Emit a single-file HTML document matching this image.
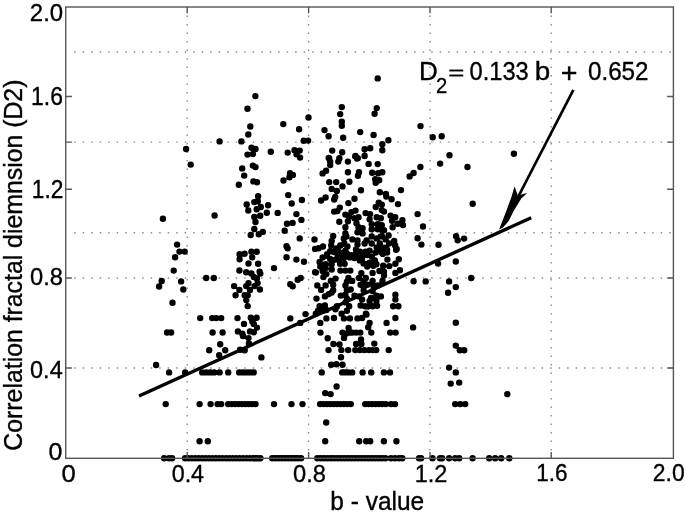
<!DOCTYPE html>
<html><head><meta charset="utf-8"><style>
html,body{margin:0;padding:0;background:#fff;width:685px;height:514px;overflow:hidden}
svg{display:block;filter:grayscale(1)}
text{font-family:"Liberation Sans",sans-serif}
</style></head><body>
<svg width="685" height="514" viewBox="0 0 685 514">
<rect width="685" height="514" fill="#fff"/>
<path d="M186.50 15.50h1.4v1.6h-1.4zM186.50 24.00h1.4v1.6h-1.4zM186.50 32.50h1.4v1.6h-1.4zM186.50 41.00h1.4v1.6h-1.4zM186.50 49.50h1.4v1.6h-1.4zM186.50 58.00h1.4v1.6h-1.4zM186.50 66.50h1.4v1.6h-1.4zM186.50 75.00h1.4v1.6h-1.4zM186.50 83.50h1.4v1.6h-1.4zM186.50 92.00h1.4v1.6h-1.4zM186.50 100.50h1.4v1.6h-1.4zM186.50 109.00h1.4v1.6h-1.4zM186.50 117.50h1.4v1.6h-1.4zM186.50 126.00h1.4v1.6h-1.4zM186.50 134.50h1.4v1.6h-1.4zM186.50 143.00h1.4v1.6h-1.4zM186.50 151.50h1.4v1.6h-1.4zM186.50 160.00h1.4v1.6h-1.4zM186.50 168.50h1.4v1.6h-1.4zM186.50 177.00h1.4v1.6h-1.4zM186.50 185.50h1.4v1.6h-1.4zM186.50 194.00h1.4v1.6h-1.4zM186.50 202.50h1.4v1.6h-1.4zM186.50 211.00h1.4v1.6h-1.4zM186.50 219.50h1.4v1.6h-1.4zM186.50 228.00h1.4v1.6h-1.4zM186.50 236.50h1.4v1.6h-1.4zM186.50 245.00h1.4v1.6h-1.4zM186.50 253.50h1.4v1.6h-1.4zM186.50 262.00h1.4v1.6h-1.4zM186.50 270.50h1.4v1.6h-1.4zM186.50 279.00h1.4v1.6h-1.4zM186.50 287.50h1.4v1.6h-1.4zM186.50 296.00h1.4v1.6h-1.4zM186.50 304.50h1.4v1.6h-1.4zM186.50 313.00h1.4v1.6h-1.4zM186.50 321.50h1.4v1.6h-1.4zM186.50 330.00h1.4v1.6h-1.4zM186.50 338.50h1.4v1.6h-1.4zM186.50 347.00h1.4v1.6h-1.4zM186.50 355.50h1.4v1.6h-1.4zM186.50 364.00h1.4v1.6h-1.4zM186.50 372.50h1.4v1.6h-1.4zM186.50 381.00h1.4v1.6h-1.4zM186.50 389.50h1.4v1.6h-1.4zM186.50 398.00h1.4v1.6h-1.4zM186.50 406.50h1.4v1.6h-1.4zM186.50 415.00h1.4v1.6h-1.4zM186.50 423.50h1.4v1.6h-1.4zM186.50 432.00h1.4v1.6h-1.4zM186.50 440.50h1.4v1.6h-1.4zM186.50 449.00h1.4v1.6h-1.4zM307.90 15.50h1.4v1.6h-1.4zM307.90 24.00h1.4v1.6h-1.4zM307.90 32.50h1.4v1.6h-1.4zM307.90 41.00h1.4v1.6h-1.4zM307.90 49.50h1.4v1.6h-1.4zM307.90 58.00h1.4v1.6h-1.4zM307.90 66.50h1.4v1.6h-1.4zM307.90 75.00h1.4v1.6h-1.4zM307.90 83.50h1.4v1.6h-1.4zM307.90 92.00h1.4v1.6h-1.4zM307.90 100.50h1.4v1.6h-1.4zM307.90 109.00h1.4v1.6h-1.4zM307.90 117.50h1.4v1.6h-1.4zM307.90 126.00h1.4v1.6h-1.4zM307.90 134.50h1.4v1.6h-1.4zM307.90 143.00h1.4v1.6h-1.4zM307.90 151.50h1.4v1.6h-1.4zM307.90 160.00h1.4v1.6h-1.4zM307.90 168.50h1.4v1.6h-1.4zM307.90 177.00h1.4v1.6h-1.4zM307.90 185.50h1.4v1.6h-1.4zM307.90 194.00h1.4v1.6h-1.4zM307.90 202.50h1.4v1.6h-1.4zM307.90 211.00h1.4v1.6h-1.4zM307.90 219.50h1.4v1.6h-1.4zM307.90 228.00h1.4v1.6h-1.4zM307.90 236.50h1.4v1.6h-1.4zM307.90 245.00h1.4v1.6h-1.4zM307.90 253.50h1.4v1.6h-1.4zM307.90 262.00h1.4v1.6h-1.4zM307.90 270.50h1.4v1.6h-1.4zM307.90 279.00h1.4v1.6h-1.4zM307.90 287.50h1.4v1.6h-1.4zM307.90 296.00h1.4v1.6h-1.4zM307.90 304.50h1.4v1.6h-1.4zM307.90 313.00h1.4v1.6h-1.4zM307.90 321.50h1.4v1.6h-1.4zM307.90 330.00h1.4v1.6h-1.4zM307.90 338.50h1.4v1.6h-1.4zM307.90 347.00h1.4v1.6h-1.4zM307.90 355.50h1.4v1.6h-1.4zM307.90 364.00h1.4v1.6h-1.4zM307.90 372.50h1.4v1.6h-1.4zM307.90 381.00h1.4v1.6h-1.4zM307.90 389.50h1.4v1.6h-1.4zM307.90 398.00h1.4v1.6h-1.4zM307.90 406.50h1.4v1.6h-1.4zM307.90 415.00h1.4v1.6h-1.4zM307.90 423.50h1.4v1.6h-1.4zM307.90 432.00h1.4v1.6h-1.4zM307.90 440.50h1.4v1.6h-1.4zM307.90 449.00h1.4v1.6h-1.4zM429.30 15.50h1.4v1.6h-1.4zM429.30 24.00h1.4v1.6h-1.4zM429.30 32.50h1.4v1.6h-1.4zM429.30 41.00h1.4v1.6h-1.4zM429.30 49.50h1.4v1.6h-1.4zM429.30 58.00h1.4v1.6h-1.4zM429.30 66.50h1.4v1.6h-1.4zM429.30 75.00h1.4v1.6h-1.4zM429.30 83.50h1.4v1.6h-1.4zM429.30 92.00h1.4v1.6h-1.4zM429.30 100.50h1.4v1.6h-1.4zM429.30 109.00h1.4v1.6h-1.4zM429.30 117.50h1.4v1.6h-1.4zM429.30 126.00h1.4v1.6h-1.4zM429.30 134.50h1.4v1.6h-1.4zM429.30 143.00h1.4v1.6h-1.4zM429.30 151.50h1.4v1.6h-1.4zM429.30 160.00h1.4v1.6h-1.4zM429.30 168.50h1.4v1.6h-1.4zM429.30 177.00h1.4v1.6h-1.4zM429.30 185.50h1.4v1.6h-1.4zM429.30 194.00h1.4v1.6h-1.4zM429.30 202.50h1.4v1.6h-1.4zM429.30 211.00h1.4v1.6h-1.4zM429.30 219.50h1.4v1.6h-1.4zM429.30 228.00h1.4v1.6h-1.4zM429.30 236.50h1.4v1.6h-1.4zM429.30 245.00h1.4v1.6h-1.4zM429.30 253.50h1.4v1.6h-1.4zM429.30 262.00h1.4v1.6h-1.4zM429.30 270.50h1.4v1.6h-1.4zM429.30 279.00h1.4v1.6h-1.4zM429.30 287.50h1.4v1.6h-1.4zM429.30 296.00h1.4v1.6h-1.4zM429.30 304.50h1.4v1.6h-1.4zM429.30 313.00h1.4v1.6h-1.4zM429.30 321.50h1.4v1.6h-1.4zM429.30 330.00h1.4v1.6h-1.4zM429.30 338.50h1.4v1.6h-1.4zM429.30 347.00h1.4v1.6h-1.4zM429.30 355.50h1.4v1.6h-1.4zM429.30 364.00h1.4v1.6h-1.4zM429.30 372.50h1.4v1.6h-1.4zM429.30 381.00h1.4v1.6h-1.4zM429.30 389.50h1.4v1.6h-1.4zM429.30 398.00h1.4v1.6h-1.4zM429.30 406.50h1.4v1.6h-1.4zM429.30 415.00h1.4v1.6h-1.4zM429.30 423.50h1.4v1.6h-1.4zM429.30 432.00h1.4v1.6h-1.4zM429.30 440.50h1.4v1.6h-1.4zM429.30 449.00h1.4v1.6h-1.4zM550.50 15.50h1.4v1.6h-1.4zM550.50 24.00h1.4v1.6h-1.4zM550.50 32.50h1.4v1.6h-1.4zM550.50 41.00h1.4v1.6h-1.4zM550.50 49.50h1.4v1.6h-1.4zM550.50 58.00h1.4v1.6h-1.4zM550.50 66.50h1.4v1.6h-1.4zM550.50 75.00h1.4v1.6h-1.4zM550.50 83.50h1.4v1.6h-1.4zM550.50 92.00h1.4v1.6h-1.4zM550.50 100.50h1.4v1.6h-1.4zM550.50 109.00h1.4v1.6h-1.4zM550.50 117.50h1.4v1.6h-1.4zM550.50 126.00h1.4v1.6h-1.4zM550.50 134.50h1.4v1.6h-1.4zM550.50 143.00h1.4v1.6h-1.4zM550.50 151.50h1.4v1.6h-1.4zM550.50 160.00h1.4v1.6h-1.4zM550.50 168.50h1.4v1.6h-1.4zM550.50 177.00h1.4v1.6h-1.4zM550.50 185.50h1.4v1.6h-1.4zM550.50 194.00h1.4v1.6h-1.4zM550.50 202.50h1.4v1.6h-1.4zM550.50 211.00h1.4v1.6h-1.4zM550.50 219.50h1.4v1.6h-1.4zM550.50 228.00h1.4v1.6h-1.4zM550.50 236.50h1.4v1.6h-1.4zM550.50 245.00h1.4v1.6h-1.4zM550.50 253.50h1.4v1.6h-1.4zM550.50 262.00h1.4v1.6h-1.4zM550.50 270.50h1.4v1.6h-1.4zM550.50 279.00h1.4v1.6h-1.4zM550.50 287.50h1.4v1.6h-1.4zM550.50 296.00h1.4v1.6h-1.4zM550.50 304.50h1.4v1.6h-1.4zM550.50 313.00h1.4v1.6h-1.4zM550.50 321.50h1.4v1.6h-1.4zM550.50 330.00h1.4v1.6h-1.4zM550.50 338.50h1.4v1.6h-1.4zM550.50 347.00h1.4v1.6h-1.4zM550.50 355.50h1.4v1.6h-1.4zM550.50 364.00h1.4v1.6h-1.4zM550.50 372.50h1.4v1.6h-1.4zM550.50 381.00h1.4v1.6h-1.4zM550.50 389.50h1.4v1.6h-1.4zM550.50 398.00h1.4v1.6h-1.4zM550.50 406.50h1.4v1.6h-1.4zM550.50 415.00h1.4v1.6h-1.4zM550.50 423.50h1.4v1.6h-1.4zM550.50 432.00h1.4v1.6h-1.4zM550.50 440.50h1.4v1.6h-1.4zM550.50 449.00h1.4v1.6h-1.4zM74.15 51.30h1.5v1.4h-1.5zM82.65 51.30h1.5v1.4h-1.5zM91.15 51.30h1.5v1.4h-1.5zM99.65 51.30h1.5v1.4h-1.5zM108.15 51.30h1.5v1.4h-1.5zM116.65 51.30h1.5v1.4h-1.5zM125.15 51.30h1.5v1.4h-1.5zM133.65 51.30h1.5v1.4h-1.5zM142.15 51.30h1.5v1.4h-1.5zM150.65 51.30h1.5v1.4h-1.5zM159.15 51.30h1.5v1.4h-1.5zM167.65 51.30h1.5v1.4h-1.5zM176.15 51.30h1.5v1.4h-1.5zM184.65 51.30h1.5v1.4h-1.5zM193.15 51.30h1.5v1.4h-1.5zM201.65 51.30h1.5v1.4h-1.5zM210.15 51.30h1.5v1.4h-1.5zM218.65 51.30h1.5v1.4h-1.5zM227.15 51.30h1.5v1.4h-1.5zM235.65 51.30h1.5v1.4h-1.5zM244.15 51.30h1.5v1.4h-1.5zM252.65 51.30h1.5v1.4h-1.5zM261.15 51.30h1.5v1.4h-1.5zM269.65 51.30h1.5v1.4h-1.5zM278.15 51.30h1.5v1.4h-1.5zM286.65 51.30h1.5v1.4h-1.5zM295.15 51.30h1.5v1.4h-1.5zM303.65 51.30h1.5v1.4h-1.5zM312.15 51.30h1.5v1.4h-1.5zM320.65 51.30h1.5v1.4h-1.5zM329.15 51.30h1.5v1.4h-1.5zM337.65 51.30h1.5v1.4h-1.5zM346.15 51.30h1.5v1.4h-1.5zM354.65 51.30h1.5v1.4h-1.5zM363.15 51.30h1.5v1.4h-1.5zM371.65 51.30h1.5v1.4h-1.5zM380.15 51.30h1.5v1.4h-1.5zM388.65 51.30h1.5v1.4h-1.5zM397.15 51.30h1.5v1.4h-1.5zM405.65 51.30h1.5v1.4h-1.5zM414.15 51.30h1.5v1.4h-1.5zM422.65 51.30h1.5v1.4h-1.5zM431.15 51.30h1.5v1.4h-1.5zM439.65 51.30h1.5v1.4h-1.5zM448.15 51.30h1.5v1.4h-1.5zM456.65 51.30h1.5v1.4h-1.5zM465.15 51.30h1.5v1.4h-1.5zM473.65 51.30h1.5v1.4h-1.5zM482.15 51.30h1.5v1.4h-1.5zM490.65 51.30h1.5v1.4h-1.5zM499.15 51.30h1.5v1.4h-1.5zM507.65 51.30h1.5v1.4h-1.5zM516.15 51.30h1.5v1.4h-1.5zM524.65 51.30h1.5v1.4h-1.5zM533.15 51.30h1.5v1.4h-1.5zM541.65 51.30h1.5v1.4h-1.5zM550.15 51.30h1.5v1.4h-1.5zM558.65 51.30h1.5v1.4h-1.5zM567.15 51.30h1.5v1.4h-1.5zM575.65 51.30h1.5v1.4h-1.5zM584.15 51.30h1.5v1.4h-1.5zM592.65 51.30h1.5v1.4h-1.5zM601.15 51.30h1.5v1.4h-1.5zM609.65 51.30h1.5v1.4h-1.5zM618.15 51.30h1.5v1.4h-1.5zM626.65 51.30h1.5v1.4h-1.5zM635.15 51.30h1.5v1.4h-1.5zM643.65 51.30h1.5v1.4h-1.5zM652.15 51.30h1.5v1.4h-1.5zM660.65 51.30h1.5v1.4h-1.5zM669.15 51.30h1.5v1.4h-1.5zM74.15 141.40h1.5v1.4h-1.5zM82.65 141.40h1.5v1.4h-1.5zM91.15 141.40h1.5v1.4h-1.5zM99.65 141.40h1.5v1.4h-1.5zM108.15 141.40h1.5v1.4h-1.5zM116.65 141.40h1.5v1.4h-1.5zM125.15 141.40h1.5v1.4h-1.5zM133.65 141.40h1.5v1.4h-1.5zM142.15 141.40h1.5v1.4h-1.5zM150.65 141.40h1.5v1.4h-1.5zM159.15 141.40h1.5v1.4h-1.5zM167.65 141.40h1.5v1.4h-1.5zM176.15 141.40h1.5v1.4h-1.5zM184.65 141.40h1.5v1.4h-1.5zM193.15 141.40h1.5v1.4h-1.5zM201.65 141.40h1.5v1.4h-1.5zM210.15 141.40h1.5v1.4h-1.5zM218.65 141.40h1.5v1.4h-1.5zM227.15 141.40h1.5v1.4h-1.5zM235.65 141.40h1.5v1.4h-1.5zM244.15 141.40h1.5v1.4h-1.5zM252.65 141.40h1.5v1.4h-1.5zM261.15 141.40h1.5v1.4h-1.5zM269.65 141.40h1.5v1.4h-1.5zM278.15 141.40h1.5v1.4h-1.5zM286.65 141.40h1.5v1.4h-1.5zM295.15 141.40h1.5v1.4h-1.5zM303.65 141.40h1.5v1.4h-1.5zM312.15 141.40h1.5v1.4h-1.5zM320.65 141.40h1.5v1.4h-1.5zM329.15 141.40h1.5v1.4h-1.5zM337.65 141.40h1.5v1.4h-1.5zM346.15 141.40h1.5v1.4h-1.5zM354.65 141.40h1.5v1.4h-1.5zM363.15 141.40h1.5v1.4h-1.5zM371.65 141.40h1.5v1.4h-1.5zM380.15 141.40h1.5v1.4h-1.5zM388.65 141.40h1.5v1.4h-1.5zM397.15 141.40h1.5v1.4h-1.5zM405.65 141.40h1.5v1.4h-1.5zM414.15 141.40h1.5v1.4h-1.5zM422.65 141.40h1.5v1.4h-1.5zM431.15 141.40h1.5v1.4h-1.5zM439.65 141.40h1.5v1.4h-1.5zM448.15 141.40h1.5v1.4h-1.5zM456.65 141.40h1.5v1.4h-1.5zM465.15 141.40h1.5v1.4h-1.5zM473.65 141.40h1.5v1.4h-1.5zM482.15 141.40h1.5v1.4h-1.5zM490.65 141.40h1.5v1.4h-1.5zM499.15 141.40h1.5v1.4h-1.5zM507.65 141.40h1.5v1.4h-1.5zM516.15 141.40h1.5v1.4h-1.5zM524.65 141.40h1.5v1.4h-1.5zM533.15 141.40h1.5v1.4h-1.5zM541.65 141.40h1.5v1.4h-1.5zM550.15 141.40h1.5v1.4h-1.5zM558.65 141.40h1.5v1.4h-1.5zM567.15 141.40h1.5v1.4h-1.5zM575.65 141.40h1.5v1.4h-1.5zM584.15 141.40h1.5v1.4h-1.5zM592.65 141.40h1.5v1.4h-1.5zM601.15 141.40h1.5v1.4h-1.5zM609.65 141.40h1.5v1.4h-1.5zM618.15 141.40h1.5v1.4h-1.5zM626.65 141.40h1.5v1.4h-1.5zM635.15 141.40h1.5v1.4h-1.5zM643.65 141.40h1.5v1.4h-1.5zM652.15 141.40h1.5v1.4h-1.5zM660.65 141.40h1.5v1.4h-1.5zM669.15 141.40h1.5v1.4h-1.5zM74.15 232.10h1.5v1.4h-1.5zM82.65 232.10h1.5v1.4h-1.5zM91.15 232.10h1.5v1.4h-1.5zM99.65 232.10h1.5v1.4h-1.5zM108.15 232.10h1.5v1.4h-1.5zM116.65 232.10h1.5v1.4h-1.5zM125.15 232.10h1.5v1.4h-1.5zM133.65 232.10h1.5v1.4h-1.5zM142.15 232.10h1.5v1.4h-1.5zM150.65 232.10h1.5v1.4h-1.5zM159.15 232.10h1.5v1.4h-1.5zM167.65 232.10h1.5v1.4h-1.5zM176.15 232.10h1.5v1.4h-1.5zM184.65 232.10h1.5v1.4h-1.5zM193.15 232.10h1.5v1.4h-1.5zM201.65 232.10h1.5v1.4h-1.5zM210.15 232.10h1.5v1.4h-1.5zM218.65 232.10h1.5v1.4h-1.5zM227.15 232.10h1.5v1.4h-1.5zM235.65 232.10h1.5v1.4h-1.5zM244.15 232.10h1.5v1.4h-1.5zM252.65 232.10h1.5v1.4h-1.5zM261.15 232.10h1.5v1.4h-1.5zM269.65 232.10h1.5v1.4h-1.5zM278.15 232.10h1.5v1.4h-1.5zM286.65 232.10h1.5v1.4h-1.5zM295.15 232.10h1.5v1.4h-1.5zM303.65 232.10h1.5v1.4h-1.5zM312.15 232.10h1.5v1.4h-1.5zM320.65 232.10h1.5v1.4h-1.5zM329.15 232.10h1.5v1.4h-1.5zM337.65 232.10h1.5v1.4h-1.5zM346.15 232.10h1.5v1.4h-1.5zM354.65 232.10h1.5v1.4h-1.5zM363.15 232.10h1.5v1.4h-1.5zM371.65 232.10h1.5v1.4h-1.5zM380.15 232.10h1.5v1.4h-1.5zM388.65 232.10h1.5v1.4h-1.5zM397.15 232.10h1.5v1.4h-1.5zM405.65 232.10h1.5v1.4h-1.5zM414.15 232.10h1.5v1.4h-1.5zM422.65 232.10h1.5v1.4h-1.5zM431.15 232.10h1.5v1.4h-1.5zM439.65 232.10h1.5v1.4h-1.5zM448.15 232.10h1.5v1.4h-1.5zM456.65 232.10h1.5v1.4h-1.5zM465.15 232.10h1.5v1.4h-1.5zM473.65 232.10h1.5v1.4h-1.5zM482.15 232.10h1.5v1.4h-1.5zM490.65 232.10h1.5v1.4h-1.5zM499.15 232.10h1.5v1.4h-1.5zM507.65 232.10h1.5v1.4h-1.5zM516.15 232.10h1.5v1.4h-1.5zM524.65 232.10h1.5v1.4h-1.5zM533.15 232.10h1.5v1.4h-1.5zM541.65 232.10h1.5v1.4h-1.5zM550.15 232.10h1.5v1.4h-1.5zM558.65 232.10h1.5v1.4h-1.5zM567.15 232.10h1.5v1.4h-1.5zM575.65 232.10h1.5v1.4h-1.5zM584.15 232.10h1.5v1.4h-1.5zM592.65 232.10h1.5v1.4h-1.5zM601.15 232.10h1.5v1.4h-1.5zM609.65 232.10h1.5v1.4h-1.5zM618.15 232.10h1.5v1.4h-1.5zM626.65 232.10h1.5v1.4h-1.5zM635.15 232.10h1.5v1.4h-1.5zM643.65 232.10h1.5v1.4h-1.5zM652.15 232.10h1.5v1.4h-1.5zM660.65 232.10h1.5v1.4h-1.5zM669.15 232.10h1.5v1.4h-1.5zM74.15 277.30h1.5v1.4h-1.5zM82.65 277.30h1.5v1.4h-1.5zM91.15 277.30h1.5v1.4h-1.5zM99.65 277.30h1.5v1.4h-1.5zM108.15 277.30h1.5v1.4h-1.5zM116.65 277.30h1.5v1.4h-1.5zM125.15 277.30h1.5v1.4h-1.5zM133.65 277.30h1.5v1.4h-1.5zM142.15 277.30h1.5v1.4h-1.5zM150.65 277.30h1.5v1.4h-1.5zM159.15 277.30h1.5v1.4h-1.5zM167.65 277.30h1.5v1.4h-1.5zM176.15 277.30h1.5v1.4h-1.5zM184.65 277.30h1.5v1.4h-1.5zM193.15 277.30h1.5v1.4h-1.5zM201.65 277.30h1.5v1.4h-1.5zM210.15 277.30h1.5v1.4h-1.5zM218.65 277.30h1.5v1.4h-1.5zM227.15 277.30h1.5v1.4h-1.5zM235.65 277.30h1.5v1.4h-1.5zM244.15 277.30h1.5v1.4h-1.5zM252.65 277.30h1.5v1.4h-1.5zM261.15 277.30h1.5v1.4h-1.5zM269.65 277.30h1.5v1.4h-1.5zM278.15 277.30h1.5v1.4h-1.5zM286.65 277.30h1.5v1.4h-1.5zM295.15 277.30h1.5v1.4h-1.5zM303.65 277.30h1.5v1.4h-1.5zM312.15 277.30h1.5v1.4h-1.5zM320.65 277.30h1.5v1.4h-1.5zM329.15 277.30h1.5v1.4h-1.5zM337.65 277.30h1.5v1.4h-1.5zM346.15 277.30h1.5v1.4h-1.5zM354.65 277.30h1.5v1.4h-1.5zM363.15 277.30h1.5v1.4h-1.5zM371.65 277.30h1.5v1.4h-1.5zM380.15 277.30h1.5v1.4h-1.5zM388.65 277.30h1.5v1.4h-1.5zM397.15 277.30h1.5v1.4h-1.5zM405.65 277.30h1.5v1.4h-1.5zM414.15 277.30h1.5v1.4h-1.5zM422.65 277.30h1.5v1.4h-1.5zM431.15 277.30h1.5v1.4h-1.5zM439.65 277.30h1.5v1.4h-1.5zM448.15 277.30h1.5v1.4h-1.5zM456.65 277.30h1.5v1.4h-1.5zM465.15 277.30h1.5v1.4h-1.5zM473.65 277.30h1.5v1.4h-1.5zM482.15 277.30h1.5v1.4h-1.5zM490.65 277.30h1.5v1.4h-1.5zM499.15 277.30h1.5v1.4h-1.5zM507.65 277.30h1.5v1.4h-1.5zM516.15 277.30h1.5v1.4h-1.5zM524.65 277.30h1.5v1.4h-1.5zM533.15 277.30h1.5v1.4h-1.5zM541.65 277.30h1.5v1.4h-1.5zM550.15 277.30h1.5v1.4h-1.5zM558.65 277.30h1.5v1.4h-1.5zM567.15 277.30h1.5v1.4h-1.5zM575.65 277.30h1.5v1.4h-1.5zM584.15 277.30h1.5v1.4h-1.5zM592.65 277.30h1.5v1.4h-1.5zM601.15 277.30h1.5v1.4h-1.5zM609.65 277.30h1.5v1.4h-1.5zM618.15 277.30h1.5v1.4h-1.5zM626.65 277.30h1.5v1.4h-1.5zM635.15 277.30h1.5v1.4h-1.5zM643.65 277.30h1.5v1.4h-1.5zM652.15 277.30h1.5v1.4h-1.5zM660.65 277.30h1.5v1.4h-1.5zM669.15 277.30h1.5v1.4h-1.5zM74.15 367.30h1.5v1.4h-1.5zM82.65 367.30h1.5v1.4h-1.5zM91.15 367.30h1.5v1.4h-1.5zM99.65 367.30h1.5v1.4h-1.5zM108.15 367.30h1.5v1.4h-1.5zM116.65 367.30h1.5v1.4h-1.5zM125.15 367.30h1.5v1.4h-1.5zM133.65 367.30h1.5v1.4h-1.5zM142.15 367.30h1.5v1.4h-1.5zM150.65 367.30h1.5v1.4h-1.5zM159.15 367.30h1.5v1.4h-1.5zM167.65 367.30h1.5v1.4h-1.5zM176.15 367.30h1.5v1.4h-1.5zM184.65 367.30h1.5v1.4h-1.5zM193.15 367.30h1.5v1.4h-1.5zM201.65 367.30h1.5v1.4h-1.5zM210.15 367.30h1.5v1.4h-1.5zM218.65 367.30h1.5v1.4h-1.5zM227.15 367.30h1.5v1.4h-1.5zM235.65 367.30h1.5v1.4h-1.5zM244.15 367.30h1.5v1.4h-1.5zM252.65 367.30h1.5v1.4h-1.5zM261.15 367.30h1.5v1.4h-1.5zM269.65 367.30h1.5v1.4h-1.5zM278.15 367.30h1.5v1.4h-1.5zM286.65 367.30h1.5v1.4h-1.5zM295.15 367.30h1.5v1.4h-1.5zM303.65 367.30h1.5v1.4h-1.5zM312.15 367.30h1.5v1.4h-1.5zM320.65 367.30h1.5v1.4h-1.5zM329.15 367.30h1.5v1.4h-1.5zM337.65 367.30h1.5v1.4h-1.5zM346.15 367.30h1.5v1.4h-1.5zM354.65 367.30h1.5v1.4h-1.5zM363.15 367.30h1.5v1.4h-1.5zM371.65 367.30h1.5v1.4h-1.5zM380.15 367.30h1.5v1.4h-1.5zM388.65 367.30h1.5v1.4h-1.5zM397.15 367.30h1.5v1.4h-1.5zM405.65 367.30h1.5v1.4h-1.5zM414.15 367.30h1.5v1.4h-1.5zM422.65 367.30h1.5v1.4h-1.5zM431.15 367.30h1.5v1.4h-1.5zM439.65 367.30h1.5v1.4h-1.5zM448.15 367.30h1.5v1.4h-1.5zM456.65 367.30h1.5v1.4h-1.5zM465.15 367.30h1.5v1.4h-1.5zM473.65 367.30h1.5v1.4h-1.5zM482.15 367.30h1.5v1.4h-1.5zM490.65 367.30h1.5v1.4h-1.5zM499.15 367.30h1.5v1.4h-1.5zM507.65 367.30h1.5v1.4h-1.5zM516.15 367.30h1.5v1.4h-1.5zM524.65 367.30h1.5v1.4h-1.5zM533.15 367.30h1.5v1.4h-1.5zM541.65 367.30h1.5v1.4h-1.5zM550.15 367.30h1.5v1.4h-1.5zM558.65 367.30h1.5v1.4h-1.5zM567.15 367.30h1.5v1.4h-1.5zM575.65 367.30h1.5v1.4h-1.5zM584.15 367.30h1.5v1.4h-1.5zM592.65 367.30h1.5v1.4h-1.5zM601.15 367.30h1.5v1.4h-1.5zM609.65 367.30h1.5v1.4h-1.5zM618.15 367.30h1.5v1.4h-1.5zM626.65 367.30h1.5v1.4h-1.5zM635.15 367.30h1.5v1.4h-1.5zM643.65 367.30h1.5v1.4h-1.5zM652.15 367.30h1.5v1.4h-1.5zM660.65 367.30h1.5v1.4h-1.5zM669.15 367.30h1.5v1.4h-1.5z" fill="#8a8a8a"/>
<path d="M244.3 108.7a3.2 3.2 0 1 0 6.4 0a3.2 3.2 0 1 0 -6.4 0M247.1 126.5a3.2 3.2 0 1 0 6.4 0a3.2 3.2 0 1 0 -6.4 0M245.1 134.5a3.2 3.2 0 1 0 6.4 0a3.2 3.2 0 1 0 -6.4 0M216.4 141.4a3.2 3.2 0 1 0 6.4 0a3.2 3.2 0 1 0 -6.4 0M238.2 141.4a3.2 3.2 0 1 0 6.4 0a3.2 3.2 0 1 0 -6.4 0M248.3 147.8a3.2 3.2 0 1 0 6.4 0a3.2 3.2 0 1 0 -6.4 0M252.3 149.0a3.2 3.2 0 1 0 6.4 0a3.2 3.2 0 1 0 -6.4 0M244.3 154.6a3.2 3.2 0 1 0 6.4 0a3.2 3.2 0 1 0 -6.4 0M249.8 154.0a3.2 3.2 0 1 0 6.4 0a3.2 3.2 0 1 0 -6.4 0M182.9 149.0a3.2 3.2 0 1 0 6.4 0a3.2 3.2 0 1 0 -6.4 0M252.2 96.1a3.2 3.2 0 1 0 6.4 0a3.2 3.2 0 1 0 -6.4 0M267.6 151.8a3.2 3.2 0 1 0 6.4 0a3.2 3.2 0 1 0 -6.4 0M280.1 124.1a3.2 3.2 0 1 0 6.4 0a3.2 3.2 0 1 0 -6.4 0M295.9 129.3a3.2 3.2 0 1 0 6.4 0a3.2 3.2 0 1 0 -6.4 0M284.5 152.6a3.2 3.2 0 1 0 6.4 0a3.2 3.2 0 1 0 -6.4 0M291.3 150.2a3.2 3.2 0 1 0 6.4 0a3.2 3.2 0 1 0 -6.4 0M296.5 150.6a3.2 3.2 0 1 0 6.4 0a3.2 3.2 0 1 0 -6.4 0M293.3 154.2a3.2 3.2 0 1 0 6.4 0a3.2 3.2 0 1 0 -6.4 0M296.9 157.6a3.2 3.2 0 1 0 6.4 0a3.2 3.2 0 1 0 -6.4 0M300.5 140.8a3.2 3.2 0 1 0 6.4 0a3.2 3.2 0 1 0 -6.4 0M304.9 140.6a3.2 3.2 0 1 0 6.4 0a3.2 3.2 0 1 0 -6.4 0M305.3 117.5a3.2 3.2 0 1 0 6.4 0a3.2 3.2 0 1 0 -6.4 0M321.3 130.1a3.2 3.2 0 1 0 6.4 0a3.2 3.2 0 1 0 -6.4 0M325.4 136.2a3.2 3.2 0 1 0 6.4 0a3.2 3.2 0 1 0 -6.4 0M329.0 150.6a3.2 3.2 0 1 0 6.4 0a3.2 3.2 0 1 0 -6.4 0M326.0 158.2a3.2 3.2 0 1 0 6.4 0a3.2 3.2 0 1 0 -6.4 0M338.6 107.1a3.2 3.2 0 1 0 6.4 0a3.2 3.2 0 1 0 -6.4 0M337.0 114.1a3.2 3.2 0 1 0 6.4 0a3.2 3.2 0 1 0 -6.4 0M338.6 121.7a3.2 3.2 0 1 0 6.4 0a3.2 3.2 0 1 0 -6.4 0M338.6 125.7a3.2 3.2 0 1 0 6.4 0a3.2 3.2 0 1 0 -6.4 0M340.0 137.8a3.2 3.2 0 1 0 6.4 0a3.2 3.2 0 1 0 -6.4 0M339.0 152.2a3.2 3.2 0 1 0 6.4 0a3.2 3.2 0 1 0 -6.4 0M336.2 158.2a3.2 3.2 0 1 0 6.4 0a3.2 3.2 0 1 0 -6.4 0M352.0 156.2a3.2 3.2 0 1 0 6.4 0a3.2 3.2 0 1 0 -6.4 0M354.6 158.2a3.2 3.2 0 1 0 6.4 0a3.2 3.2 0 1 0 -6.4 0M357.0 132.1a3.2 3.2 0 1 0 6.4 0a3.2 3.2 0 1 0 -6.4 0M361.4 149.2a3.2 3.2 0 1 0 6.4 0a3.2 3.2 0 1 0 -6.4 0M367.0 148.2a3.2 3.2 0 1 0 6.4 0a3.2 3.2 0 1 0 -6.4 0M361.4 155.8a3.2 3.2 0 1 0 6.4 0a3.2 3.2 0 1 0 -6.4 0M370.4 135.0a3.2 3.2 0 1 0 6.4 0a3.2 3.2 0 1 0 -6.4 0M371.4 113.7a3.2 3.2 0 1 0 6.4 0a3.2 3.2 0 1 0 -6.4 0M373.5 108.1a3.2 3.2 0 1 0 6.4 0a3.2 3.2 0 1 0 -6.4 0M374.5 78.4a3.2 3.2 0 1 0 6.4 0a3.2 3.2 0 1 0 -6.4 0M379.1 144.2a3.2 3.2 0 1 0 6.4 0a3.2 3.2 0 1 0 -6.4 0M379.1 150.2a3.2 3.2 0 1 0 6.4 0a3.2 3.2 0 1 0 -6.4 0M385.2 140.2a3.2 3.2 0 1 0 6.4 0a3.2 3.2 0 1 0 -6.4 0M417.3 126.1a3.2 3.2 0 1 0 6.4 0a3.2 3.2 0 1 0 -6.4 0M429.5 137.2a3.2 3.2 0 1 0 6.4 0a3.2 3.2 0 1 0 -6.4 0M438.5 136.2a3.2 3.2 0 1 0 6.4 0a3.2 3.2 0 1 0 -6.4 0M446.3 155.2a3.2 3.2 0 1 0 6.4 0a3.2 3.2 0 1 0 -6.4 0M510.7 153.8a3.2 3.2 0 1 0 6.4 0a3.2 3.2 0 1 0 -6.4 0M187.5 164.6a3.2 3.2 0 1 0 6.4 0a3.2 3.2 0 1 0 -6.4 0M159.7 218.7a3.2 3.2 0 1 0 6.4 0a3.2 3.2 0 1 0 -6.4 0M211.4 215.5a3.2 3.2 0 1 0 6.4 0a3.2 3.2 0 1 0 -6.4 0M173.9 244.6a3.2 3.2 0 1 0 6.4 0a3.2 3.2 0 1 0 -6.4 0M176.3 251.6a3.2 3.2 0 1 0 6.4 0a3.2 3.2 0 1 0 -6.4 0M181.5 251.6a3.2 3.2 0 1 0 6.4 0a3.2 3.2 0 1 0 -6.4 0M171.9 257.2a3.2 3.2 0 1 0 6.4 0a3.2 3.2 0 1 0 -6.4 0M239.0 168.4a3.2 3.2 0 1 0 6.4 0a3.2 3.2 0 1 0 -6.4 0M241.0 175.6a3.2 3.2 0 1 0 6.4 0a3.2 3.2 0 1 0 -6.4 0M235.6 184.7a3.2 3.2 0 1 0 6.4 0a3.2 3.2 0 1 0 -6.4 0M243.5 204.5a3.2 3.2 0 1 0 6.4 0a3.2 3.2 0 1 0 -6.4 0M245.1 210.5a3.2 3.2 0 1 0 6.4 0a3.2 3.2 0 1 0 -6.4 0M247.5 235.0a3.2 3.2 0 1 0 6.4 0a3.2 3.2 0 1 0 -6.4 0M236.4 254.2a3.2 3.2 0 1 0 6.4 0a3.2 3.2 0 1 0 -6.4 0M241.4 253.8a3.2 3.2 0 1 0 6.4 0a3.2 3.2 0 1 0 -6.4 0M236.4 259.2a3.2 3.2 0 1 0 6.4 0a3.2 3.2 0 1 0 -6.4 0M249.7 165.6a3.2 3.2 0 1 0 6.4 0a3.2 3.2 0 1 0 -6.4 0M252.3 167.1a3.2 3.2 0 1 0 6.4 0a3.2 3.2 0 1 0 -6.4 0M250.2 181.4a3.2 3.2 0 1 0 6.4 0a3.2 3.2 0 1 0 -6.4 0M253.8 182.3a3.2 3.2 0 1 0 6.4 0a3.2 3.2 0 1 0 -6.4 0M286.8 173.2a3.2 3.2 0 1 0 6.4 0a3.2 3.2 0 1 0 -6.4 0M289.7 174.9a3.2 3.2 0 1 0 6.4 0a3.2 3.2 0 1 0 -6.4 0M286.2 177.3a3.2 3.2 0 1 0 6.4 0a3.2 3.2 0 1 0 -6.4 0M280.3 180.5a3.2 3.2 0 1 0 6.4 0a3.2 3.2 0 1 0 -6.4 0M285.0 195.1a3.2 3.2 0 1 0 6.4 0a3.2 3.2 0 1 0 -6.4 0M288.5 203.5a3.2 3.2 0 1 0 6.4 0a3.2 3.2 0 1 0 -6.4 0M298.7 200.0a3.2 3.2 0 1 0 6.4 0a3.2 3.2 0 1 0 -6.4 0M254.9 196.3a3.2 3.2 0 1 0 6.4 0a3.2 3.2 0 1 0 -6.4 0M251.1 202.1a3.2 3.2 0 1 0 6.4 0a3.2 3.2 0 1 0 -6.4 0M254.6 201.2a3.2 3.2 0 1 0 6.4 0a3.2 3.2 0 1 0 -6.4 0M253.5 209.2a3.2 3.2 0 1 0 6.4 0a3.2 3.2 0 1 0 -6.4 0M257.6 207.0a3.2 3.2 0 1 0 6.4 0a3.2 3.2 0 1 0 -6.4 0M264.9 205.3a3.2 3.2 0 1 0 6.4 0a3.2 3.2 0 1 0 -6.4 0M263.6 212.7a3.2 3.2 0 1 0 6.4 0a3.2 3.2 0 1 0 -6.4 0M274.5 212.9a3.2 3.2 0 1 0 6.4 0a3.2 3.2 0 1 0 -6.4 0M257.0 215.8a3.2 3.2 0 1 0 6.4 0a3.2 3.2 0 1 0 -6.4 0M251.1 217.0a3.2 3.2 0 1 0 6.4 0a3.2 3.2 0 1 0 -6.4 0M293.2 214.1a3.2 3.2 0 1 0 6.4 0a3.2 3.2 0 1 0 -6.4 0M252.3 222.0a3.2 3.2 0 1 0 6.4 0a3.2 3.2 0 1 0 -6.4 0M251.1 229.0a3.2 3.2 0 1 0 6.4 0a3.2 3.2 0 1 0 -6.4 0M255.6 234.3a3.2 3.2 0 1 0 6.4 0a3.2 3.2 0 1 0 -6.4 0M259.6 231.9a3.2 3.2 0 1 0 6.4 0a3.2 3.2 0 1 0 -6.4 0M283.8 223.8a3.2 3.2 0 1 0 6.4 0a3.2 3.2 0 1 0 -6.4 0M289.4 222.9a3.2 3.2 0 1 0 6.4 0a3.2 3.2 0 1 0 -6.4 0M298.2 219.9a3.2 3.2 0 1 0 6.4 0a3.2 3.2 0 1 0 -6.4 0M281.5 230.8a3.2 3.2 0 1 0 6.4 0a3.2 3.2 0 1 0 -6.4 0M296.5 238.4a3.2 3.2 0 1 0 6.4 0a3.2 3.2 0 1 0 -6.4 0M311.3 239.5a3.2 3.2 0 1 0 6.4 0a3.2 3.2 0 1 0 -6.4 0M283.3 246.3a3.2 3.2 0 1 0 6.4 0a3.2 3.2 0 1 0 -6.4 0M284.4 248.3a3.2 3.2 0 1 0 6.4 0a3.2 3.2 0 1 0 -6.4 0M311.9 248.9a3.2 3.2 0 1 0 6.4 0a3.2 3.2 0 1 0 -6.4 0M315.4 248.3a3.2 3.2 0 1 0 6.4 0a3.2 3.2 0 1 0 -6.4 0M319.8 246.5a3.2 3.2 0 1 0 6.4 0a3.2 3.2 0 1 0 -6.4 0M248.2 251.8a3.2 3.2 0 1 0 6.4 0a3.2 3.2 0 1 0 -6.4 0M253.5 251.8a3.2 3.2 0 1 0 6.4 0a3.2 3.2 0 1 0 -6.4 0M249.0 257.3a3.2 3.2 0 1 0 6.4 0a3.2 3.2 0 1 0 -6.4 0M245.3 263.5a3.2 3.2 0 1 0 6.4 0a3.2 3.2 0 1 0 -6.4 0M254.9 263.8a3.2 3.2 0 1 0 6.4 0a3.2 3.2 0 1 0 -6.4 0M270.8 268.1a3.2 3.2 0 1 0 6.4 0a3.2 3.2 0 1 0 -6.4 0M283.3 257.3a3.2 3.2 0 1 0 6.4 0a3.2 3.2 0 1 0 -6.4 0M293.2 259.6a3.2 3.2 0 1 0 6.4 0a3.2 3.2 0 1 0 -6.4 0M300.8 261.7a3.2 3.2 0 1 0 6.4 0a3.2 3.2 0 1 0 -6.4 0M243.0 272.2a3.2 3.2 0 1 0 6.4 0a3.2 3.2 0 1 0 -6.4 0M248.2 273.4a3.2 3.2 0 1 0 6.4 0a3.2 3.2 0 1 0 -6.4 0M256.4 271.6a3.2 3.2 0 1 0 6.4 0a3.2 3.2 0 1 0 -6.4 0M311.9 272.2a3.2 3.2 0 1 0 6.4 0a3.2 3.2 0 1 0 -6.4 0M436.9 163.6a3.2 3.2 0 1 0 6.4 0a3.2 3.2 0 1 0 -6.4 0M464.3 167.0a3.2 3.2 0 1 0 6.4 0a3.2 3.2 0 1 0 -6.4 0M417.2 167.0a3.2 3.2 0 1 0 6.4 0a3.2 3.2 0 1 0 -6.4 0M410.4 173.0a3.2 3.2 0 1 0 6.4 0a3.2 3.2 0 1 0 -6.4 0M406.4 176.4a3.2 3.2 0 1 0 6.4 0a3.2 3.2 0 1 0 -6.4 0M397.8 190.1a3.2 3.2 0 1 0 6.4 0a3.2 3.2 0 1 0 -6.4 0M469.5 203.7a3.2 3.2 0 1 0 6.4 0a3.2 3.2 0 1 0 -6.4 0M414.4 214.1a3.2 3.2 0 1 0 6.4 0a3.2 3.2 0 1 0 -6.4 0M399.2 220.1a3.2 3.2 0 1 0 6.4 0a3.2 3.2 0 1 0 -6.4 0M399.8 225.1a3.2 3.2 0 1 0 6.4 0a3.2 3.2 0 1 0 -6.4 0M419.8 226.5a3.2 3.2 0 1 0 6.4 0a3.2 3.2 0 1 0 -6.4 0M414.4 238.2a3.2 3.2 0 1 0 6.4 0a3.2 3.2 0 1 0 -6.4 0M418.2 244.6a3.2 3.2 0 1 0 6.4 0a3.2 3.2 0 1 0 -6.4 0M435.3 244.8a3.2 3.2 0 1 0 6.4 0a3.2 3.2 0 1 0 -6.4 0M452.9 236.2a3.2 3.2 0 1 0 6.4 0a3.2 3.2 0 1 0 -6.4 0M454.5 240.2a3.2 3.2 0 1 0 6.4 0a3.2 3.2 0 1 0 -6.4 0M460.9 238.6a3.2 3.2 0 1 0 6.4 0a3.2 3.2 0 1 0 -6.4 0M325.5 158.0a3.2 3.2 0 1 0 6.4 0a3.2 3.2 0 1 0 -6.4 0M327.0 161.6a3.2 3.2 0 1 0 6.4 0a3.2 3.2 0 1 0 -6.4 0M327.0 165.1a3.2 3.2 0 1 0 6.4 0a3.2 3.2 0 1 0 -6.4 0M336.1 158.5a3.2 3.2 0 1 0 6.4 0a3.2 3.2 0 1 0 -6.4 0M335.1 161.6a3.2 3.2 0 1 0 6.4 0a3.2 3.2 0 1 0 -6.4 0M344.7 161.6a3.2 3.2 0 1 0 6.4 0a3.2 3.2 0 1 0 -6.4 0M352.3 156.0a3.2 3.2 0 1 0 6.4 0a3.2 3.2 0 1 0 -6.4 0M353.8 158.5a3.2 3.2 0 1 0 6.4 0a3.2 3.2 0 1 0 -6.4 0M361.4 156.0a3.2 3.2 0 1 0 6.4 0a3.2 3.2 0 1 0 -6.4 0M365.4 163.9a3.2 3.2 0 1 0 6.4 0a3.2 3.2 0 1 0 -6.4 0M374.5 164.1a3.2 3.2 0 1 0 6.4 0a3.2 3.2 0 1 0 -6.4 0M322.9 170.7a3.2 3.2 0 1 0 6.4 0a3.2 3.2 0 1 0 -6.4 0M319.4 173.4a3.2 3.2 0 1 0 6.4 0a3.2 3.2 0 1 0 -6.4 0M344.7 172.2a3.2 3.2 0 1 0 6.4 0a3.2 3.2 0 1 0 -6.4 0M355.8 172.2a3.2 3.2 0 1 0 6.4 0a3.2 3.2 0 1 0 -6.4 0M354.8 175.7a3.2 3.2 0 1 0 6.4 0a3.2 3.2 0 1 0 -6.4 0M369.0 172.7a3.2 3.2 0 1 0 6.4 0a3.2 3.2 0 1 0 -6.4 0M375.0 173.2a3.2 3.2 0 1 0 6.4 0a3.2 3.2 0 1 0 -6.4 0M379.1 172.2a3.2 3.2 0 1 0 6.4 0a3.2 3.2 0 1 0 -6.4 0M372.0 179.3a3.2 3.2 0 1 0 6.4 0a3.2 3.2 0 1 0 -6.4 0M376.0 180.3a3.2 3.2 0 1 0 6.4 0a3.2 3.2 0 1 0 -6.4 0M372.5 182.8a3.2 3.2 0 1 0 6.4 0a3.2 3.2 0 1 0 -6.4 0M326.0 182.1a3.2 3.2 0 1 0 6.4 0a3.2 3.2 0 1 0 -6.4 0M333.0 182.1a3.2 3.2 0 1 0 6.4 0a3.2 3.2 0 1 0 -6.4 0M346.2 181.8a3.2 3.2 0 1 0 6.4 0a3.2 3.2 0 1 0 -6.4 0M339.3 186.4a3.2 3.2 0 1 0 6.4 0a3.2 3.2 0 1 0 -6.4 0M328.5 188.9a3.2 3.2 0 1 0 6.4 0a3.2 3.2 0 1 0 -6.4 0M333.6 190.9a3.2 3.2 0 1 0 6.4 0a3.2 3.2 0 1 0 -6.4 0M357.8 190.2a3.2 3.2 0 1 0 6.4 0a3.2 3.2 0 1 0 -6.4 0M376.6 192.2a3.2 3.2 0 1 0 6.4 0a3.2 3.2 0 1 0 -6.4 0M322.4 197.5a3.2 3.2 0 1 0 6.4 0a3.2 3.2 0 1 0 -6.4 0M317.9 200.5a3.2 3.2 0 1 0 6.4 0a3.2 3.2 0 1 0 -6.4 0M332.0 197.0a3.2 3.2 0 1 0 6.4 0a3.2 3.2 0 1 0 -6.4 0M331.0 199.5a3.2 3.2 0 1 0 6.4 0a3.2 3.2 0 1 0 -6.4 0M351.3 198.7a3.2 3.2 0 1 0 6.4 0a3.2 3.2 0 1 0 -6.4 0M345.2 203.1a3.2 3.2 0 1 0 6.4 0a3.2 3.2 0 1 0 -6.4 0M375.5 202.6a3.2 3.2 0 1 0 6.4 0a3.2 3.2 0 1 0 -6.4 0M378.6 204.6a3.2 3.2 0 1 0 6.4 0a3.2 3.2 0 1 0 -6.4 0M382.7 194.0a3.2 3.2 0 1 0 6.4 0a3.2 3.2 0 1 0 -6.4 0M383.1 196.5a3.2 3.2 0 1 0 6.4 0a3.2 3.2 0 1 0 -6.4 0M388.4 199.3a3.2 3.2 0 1 0 6.4 0a3.2 3.2 0 1 0 -6.4 0M394.8 204.1a3.2 3.2 0 1 0 6.4 0a3.2 3.2 0 1 0 -6.4 0M336.6 207.6a3.2 3.2 0 1 0 6.4 0a3.2 3.2 0 1 0 -6.4 0M331.0 211.6a3.2 3.2 0 1 0 6.4 0a3.2 3.2 0 1 0 -6.4 0M334.1 211.1a3.2 3.2 0 1 0 6.4 0a3.2 3.2 0 1 0 -6.4 0M342.2 214.6a3.2 3.2 0 1 0 6.4 0a3.2 3.2 0 1 0 -6.4 0M348.2 212.1a3.2 3.2 0 1 0 6.4 0a3.2 3.2 0 1 0 -6.4 0M352.3 210.6a3.2 3.2 0 1 0 6.4 0a3.2 3.2 0 1 0 -6.4 0M336.1 221.7a3.2 3.2 0 1 0 6.4 0a3.2 3.2 0 1 0 -6.4 0M344.7 221.2a3.2 3.2 0 1 0 6.4 0a3.2 3.2 0 1 0 -6.4 0M342.2 227.3a3.2 3.2 0 1 0 6.4 0a3.2 3.2 0 1 0 -6.4 0M351.3 218.2a3.2 3.2 0 1 0 6.4 0a3.2 3.2 0 1 0 -6.4 0M355.3 217.2a3.2 3.2 0 1 0 6.4 0a3.2 3.2 0 1 0 -6.4 0M353.3 223.2a3.2 3.2 0 1 0 6.4 0a3.2 3.2 0 1 0 -6.4 0M355.3 227.3a3.2 3.2 0 1 0 6.4 0a3.2 3.2 0 1 0 -6.4 0M359.4 228.3a3.2 3.2 0 1 0 6.4 0a3.2 3.2 0 1 0 -6.4 0M354.3 232.3a3.2 3.2 0 1 0 6.4 0a3.2 3.2 0 1 0 -6.4 0M359.4 233.4a3.2 3.2 0 1 0 6.4 0a3.2 3.2 0 1 0 -6.4 0M342.2 233.4a3.2 3.2 0 1 0 6.4 0a3.2 3.2 0 1 0 -6.4 0M343.2 236.4a3.2 3.2 0 1 0 6.4 0a3.2 3.2 0 1 0 -6.4 0M340.6 238.4a3.2 3.2 0 1 0 6.4 0a3.2 3.2 0 1 0 -6.4 0M330.0 235.9a3.2 3.2 0 1 0 6.4 0a3.2 3.2 0 1 0 -6.4 0M328.5 240.9a3.2 3.2 0 1 0 6.4 0a3.2 3.2 0 1 0 -6.4 0M328.0 245.5a3.2 3.2 0 1 0 6.4 0a3.2 3.2 0 1 0 -6.4 0M333.0 248.5a3.2 3.2 0 1 0 6.4 0a3.2 3.2 0 1 0 -6.4 0M337.1 245.5a3.2 3.2 0 1 0 6.4 0a3.2 3.2 0 1 0 -6.4 0M341.1 243.5a3.2 3.2 0 1 0 6.4 0a3.2 3.2 0 1 0 -6.4 0M344.2 246.5a3.2 3.2 0 1 0 6.4 0a3.2 3.2 0 1 0 -6.4 0M342.2 250.6a3.2 3.2 0 1 0 6.4 0a3.2 3.2 0 1 0 -6.4 0M339.6 253.1a3.2 3.2 0 1 0 6.4 0a3.2 3.2 0 1 0 -6.4 0M349.2 239.4a3.2 3.2 0 1 0 6.4 0a3.2 3.2 0 1 0 -6.4 0M354.3 240.4a3.2 3.2 0 1 0 6.4 0a3.2 3.2 0 1 0 -6.4 0M354.3 244.5a3.2 3.2 0 1 0 6.4 0a3.2 3.2 0 1 0 -6.4 0M352.8 249.5a3.2 3.2 0 1 0 6.4 0a3.2 3.2 0 1 0 -6.4 0M356.8 251.6a3.2 3.2 0 1 0 6.4 0a3.2 3.2 0 1 0 -6.4 0M362.4 251.6a3.2 3.2 0 1 0 6.4 0a3.2 3.2 0 1 0 -6.4 0M323.9 254.1a3.2 3.2 0 1 0 6.4 0a3.2 3.2 0 1 0 -6.4 0M362.4 213.1a3.2 3.2 0 1 0 6.4 0a3.2 3.2 0 1 0 -6.4 0M366.9 214.1a3.2 3.2 0 1 0 6.4 0a3.2 3.2 0 1 0 -6.4 0M372.5 207.0a3.2 3.2 0 1 0 6.4 0a3.2 3.2 0 1 0 -6.4 0M378.6 210.1a3.2 3.2 0 1 0 6.4 0a3.2 3.2 0 1 0 -6.4 0M373.5 217.2a3.2 3.2 0 1 0 6.4 0a3.2 3.2 0 1 0 -6.4 0M377.6 218.2a3.2 3.2 0 1 0 6.4 0a3.2 3.2 0 1 0 -6.4 0M366.4 219.2a3.2 3.2 0 1 0 6.4 0a3.2 3.2 0 1 0 -6.4 0M368.5 224.2a3.2 3.2 0 1 0 6.4 0a3.2 3.2 0 1 0 -6.4 0M374.5 224.2a3.2 3.2 0 1 0 6.4 0a3.2 3.2 0 1 0 -6.4 0M378.6 225.3a3.2 3.2 0 1 0 6.4 0a3.2 3.2 0 1 0 -6.4 0M368.5 229.3a3.2 3.2 0 1 0 6.4 0a3.2 3.2 0 1 0 -6.4 0M374.5 229.3a3.2 3.2 0 1 0 6.4 0a3.2 3.2 0 1 0 -6.4 0M379.1 230.3a3.2 3.2 0 1 0 6.4 0a3.2 3.2 0 1 0 -6.4 0M368.5 236.4a3.2 3.2 0 1 0 6.4 0a3.2 3.2 0 1 0 -6.4 0M373.5 238.4a3.2 3.2 0 1 0 6.4 0a3.2 3.2 0 1 0 -6.4 0M377.6 236.4a3.2 3.2 0 1 0 6.4 0a3.2 3.2 0 1 0 -6.4 0M363.4 240.4a3.2 3.2 0 1 0 6.4 0a3.2 3.2 0 1 0 -6.4 0M361.4 243.5a3.2 3.2 0 1 0 6.4 0a3.2 3.2 0 1 0 -6.4 0M368.5 243.5a3.2 3.2 0 1 0 6.4 0a3.2 3.2 0 1 0 -6.4 0M376.6 243.5a3.2 3.2 0 1 0 6.4 0a3.2 3.2 0 1 0 -6.4 0M373.5 247.5a3.2 3.2 0 1 0 6.4 0a3.2 3.2 0 1 0 -6.4 0M378.6 247.5a3.2 3.2 0 1 0 6.4 0a3.2 3.2 0 1 0 -6.4 0M372.5 252.6a3.2 3.2 0 1 0 6.4 0a3.2 3.2 0 1 0 -6.4 0M378.6 252.6a3.2 3.2 0 1 0 6.4 0a3.2 3.2 0 1 0 -6.4 0M366.4 250.6a3.2 3.2 0 1 0 6.4 0a3.2 3.2 0 1 0 -6.4 0M380.8 211.6a3.2 3.2 0 1 0 6.4 0a3.2 3.2 0 1 0 -6.4 0M387.4 215.6a3.2 3.2 0 1 0 6.4 0a3.2 3.2 0 1 0 -6.4 0M392.0 217.2a3.2 3.2 0 1 0 6.4 0a3.2 3.2 0 1 0 -6.4 0M388.9 220.7a3.2 3.2 0 1 0 6.4 0a3.2 3.2 0 1 0 -6.4 0M394.5 223.7a3.2 3.2 0 1 0 6.4 0a3.2 3.2 0 1 0 -6.4 0M389.4 227.3a3.2 3.2 0 1 0 6.4 0a3.2 3.2 0 1 0 -6.4 0M380.8 230.3a3.2 3.2 0 1 0 6.4 0a3.2 3.2 0 1 0 -6.4 0M385.4 235.4a3.2 3.2 0 1 0 6.4 0a3.2 3.2 0 1 0 -6.4 0M378.8 236.4a3.2 3.2 0 1 0 6.4 0a3.2 3.2 0 1 0 -6.4 0M382.4 239.4a3.2 3.2 0 1 0 6.4 0a3.2 3.2 0 1 0 -6.4 0M391.0 240.9a3.2 3.2 0 1 0 6.4 0a3.2 3.2 0 1 0 -6.4 0M385.9 243.5a3.2 3.2 0 1 0 6.4 0a3.2 3.2 0 1 0 -6.4 0M392.0 245.5a3.2 3.2 0 1 0 6.4 0a3.2 3.2 0 1 0 -6.4 0M393.5 249.0a3.2 3.2 0 1 0 6.4 0a3.2 3.2 0 1 0 -6.4 0M382.9 247.5a3.2 3.2 0 1 0 6.4 0a3.2 3.2 0 1 0 -6.4 0M378.8 250.6a3.2 3.2 0 1 0 6.4 0a3.2 3.2 0 1 0 -6.4 0M383.9 252.6a3.2 3.2 0 1 0 6.4 0a3.2 3.2 0 1 0 -6.4 0M330.8 252.0a3.2 3.2 0 1 0 6.4 0a3.2 3.2 0 1 0 -6.4 0M339.9 252.8a3.2 3.2 0 1 0 6.4 0a3.2 3.2 0 1 0 -6.4 0M343.7 253.6a3.2 3.2 0 1 0 6.4 0a3.2 3.2 0 1 0 -6.4 0M348.2 255.1a3.2 3.2 0 1 0 6.4 0a3.2 3.2 0 1 0 -6.4 0M352.8 253.6a3.2 3.2 0 1 0 6.4 0a3.2 3.2 0 1 0 -6.4 0M357.4 252.8a3.2 3.2 0 1 0 6.4 0a3.2 3.2 0 1 0 -6.4 0M361.2 252.8a3.2 3.2 0 1 0 6.4 0a3.2 3.2 0 1 0 -6.4 0M354.3 257.4a3.2 3.2 0 1 0 6.4 0a3.2 3.2 0 1 0 -6.4 0M358.9 258.1a3.2 3.2 0 1 0 6.4 0a3.2 3.2 0 1 0 -6.4 0M360.4 263.4a3.2 3.2 0 1 0 6.4 0a3.2 3.2 0 1 0 -6.4 0M363.4 264.2a3.2 3.2 0 1 0 6.4 0a3.2 3.2 0 1 0 -6.4 0M319.4 257.4a3.2 3.2 0 1 0 6.4 0a3.2 3.2 0 1 0 -6.4 0M323.9 255.8a3.2 3.2 0 1 0 6.4 0a3.2 3.2 0 1 0 -6.4 0M316.4 261.9a3.2 3.2 0 1 0 6.4 0a3.2 3.2 0 1 0 -6.4 0M317.1 266.5a3.2 3.2 0 1 0 6.4 0a3.2 3.2 0 1 0 -6.4 0M319.4 271.0a3.2 3.2 0 1 0 6.4 0a3.2 3.2 0 1 0 -6.4 0M320.2 277.1a3.2 3.2 0 1 0 6.4 0a3.2 3.2 0 1 0 -6.4 0M323.2 274.1a3.2 3.2 0 1 0 6.4 0a3.2 3.2 0 1 0 -6.4 0M327.0 258.9a3.2 3.2 0 1 0 6.4 0a3.2 3.2 0 1 0 -6.4 0M328.5 264.2a3.2 3.2 0 1 0 6.4 0a3.2 3.2 0 1 0 -6.4 0M328.5 269.5a3.2 3.2 0 1 0 6.4 0a3.2 3.2 0 1 0 -6.4 0M332.3 259.6a3.2 3.2 0 1 0 6.4 0a3.2 3.2 0 1 0 -6.4 0M336.1 258.1a3.2 3.2 0 1 0 6.4 0a3.2 3.2 0 1 0 -6.4 0M312.6 272.5a3.2 3.2 0 1 0 6.4 0a3.2 3.2 0 1 0 -6.4 0M336.9 263.8a3.2 3.2 0 1 0 6.4 0a3.2 3.2 0 1 0 -6.4 0M341.4 263.8a3.2 3.2 0 1 0 6.4 0a3.2 3.2 0 1 0 -6.4 0M337.2 270.6a3.2 3.2 0 1 0 6.4 0a3.2 3.2 0 1 0 -6.4 0M342.2 270.6a3.2 3.2 0 1 0 6.4 0a3.2 3.2 0 1 0 -6.4 0M347.1 270.6a3.2 3.2 0 1 0 6.4 0a3.2 3.2 0 1 0 -6.4 0M332.3 278.6a3.2 3.2 0 1 0 6.4 0a3.2 3.2 0 1 0 -6.4 0M327.7 280.9a3.2 3.2 0 1 0 6.4 0a3.2 3.2 0 1 0 -6.4 0M330.0 284.7a3.2 3.2 0 1 0 6.4 0a3.2 3.2 0 1 0 -6.4 0M345.2 277.9a3.2 3.2 0 1 0 6.4 0a3.2 3.2 0 1 0 -6.4 0M343.7 281.6a3.2 3.2 0 1 0 6.4 0a3.2 3.2 0 1 0 -6.4 0M349.0 280.9a3.2 3.2 0 1 0 6.4 0a3.2 3.2 0 1 0 -6.4 0M342.2 285.4a3.2 3.2 0 1 0 6.4 0a3.2 3.2 0 1 0 -6.4 0M314.1 285.4a3.2 3.2 0 1 0 6.4 0a3.2 3.2 0 1 0 -6.4 0M322.4 285.4a3.2 3.2 0 1 0 6.4 0a3.2 3.2 0 1 0 -6.4 0M358.1 273.3a3.2 3.2 0 1 0 6.4 0a3.2 3.2 0 1 0 -6.4 0M355.8 277.9a3.2 3.2 0 1 0 6.4 0a3.2 3.2 0 1 0 -6.4 0M360.4 280.9a3.2 3.2 0 1 0 6.4 0a3.2 3.2 0 1 0 -6.4 0M357.4 284.7a3.2 3.2 0 1 0 6.4 0a3.2 3.2 0 1 0 -6.4 0M361.9 285.4a3.2 3.2 0 1 0 6.4 0a3.2 3.2 0 1 0 -6.4 0M322.4 264.2a3.2 3.2 0 1 0 6.4 0a3.2 3.2 0 1 0 -6.4 0M322.4 268.0a3.2 3.2 0 1 0 6.4 0a3.2 3.2 0 1 0 -6.4 0M334.6 255.8a3.2 3.2 0 1 0 6.4 0a3.2 3.2 0 1 0 -6.4 0M340.7 258.1a3.2 3.2 0 1 0 6.4 0a3.2 3.2 0 1 0 -6.4 0M346.7 257.4a3.2 3.2 0 1 0 6.4 0a3.2 3.2 0 1 0 -6.4 0M351.3 258.1a3.2 3.2 0 1 0 6.4 0a3.2 3.2 0 1 0 -6.4 0M356.6 260.4a3.2 3.2 0 1 0 6.4 0a3.2 3.2 0 1 0 -6.4 0M327.0 251.3a3.2 3.2 0 1 0 6.4 0a3.2 3.2 0 1 0 -6.4 0M334.6 250.5a3.2 3.2 0 1 0 6.4 0a3.2 3.2 0 1 0 -6.4 0M379.6 253.9a3.2 3.2 0 1 0 6.4 0a3.2 3.2 0 1 0 -6.4 0M392.9 249.8a3.2 3.2 0 1 0 6.4 0a3.2 3.2 0 1 0 -6.4 0M384.2 259.6a3.2 3.2 0 1 0 6.4 0a3.2 3.2 0 1 0 -6.4 0M395.6 259.3a3.2 3.2 0 1 0 6.4 0a3.2 3.2 0 1 0 -6.4 0M392.2 263.8a3.2 3.2 0 1 0 6.4 0a3.2 3.2 0 1 0 -6.4 0M380.0 265.7a3.2 3.2 0 1 0 6.4 0a3.2 3.2 0 1 0 -6.4 0M386.1 266.1a3.2 3.2 0 1 0 6.4 0a3.2 3.2 0 1 0 -6.4 0M376.2 271.0a3.2 3.2 0 1 0 6.4 0a3.2 3.2 0 1 0 -6.4 0M380.8 271.8a3.2 3.2 0 1 0 6.4 0a3.2 3.2 0 1 0 -6.4 0M380.8 275.6a3.2 3.2 0 1 0 6.4 0a3.2 3.2 0 1 0 -6.4 0M369.4 272.9a3.2 3.2 0 1 0 6.4 0a3.2 3.2 0 1 0 -6.4 0M392.2 272.9a3.2 3.2 0 1 0 6.4 0a3.2 3.2 0 1 0 -6.4 0M396.7 270.3a3.2 3.2 0 1 0 6.4 0a3.2 3.2 0 1 0 -6.4 0M362.6 277.9a3.2 3.2 0 1 0 6.4 0a3.2 3.2 0 1 0 -6.4 0M369.4 280.9a3.2 3.2 0 1 0 6.4 0a3.2 3.2 0 1 0 -6.4 0M379.3 280.9a3.2 3.2 0 1 0 6.4 0a3.2 3.2 0 1 0 -6.4 0M370.2 285.4a3.2 3.2 0 1 0 6.4 0a3.2 3.2 0 1 0 -6.4 0M374.7 285.4a3.2 3.2 0 1 0 6.4 0a3.2 3.2 0 1 0 -6.4 0M364.1 284.7a3.2 3.2 0 1 0 6.4 0a3.2 3.2 0 1 0 -6.4 0M410.4 281.3a3.2 3.2 0 1 0 6.4 0a3.2 3.2 0 1 0 -6.4 0M364.1 255.1a3.2 3.2 0 1 0 6.4 0a3.2 3.2 0 1 0 -6.4 0M368.6 256.6a3.2 3.2 0 1 0 6.4 0a3.2 3.2 0 1 0 -6.4 0M371.7 260.4a3.2 3.2 0 1 0 6.4 0a3.2 3.2 0 1 0 -6.4 0M373.2 264.2a3.2 3.2 0 1 0 6.4 0a3.2 3.2 0 1 0 -6.4 0M366.4 262.7a3.2 3.2 0 1 0 6.4 0a3.2 3.2 0 1 0 -6.4 0M364.1 266.5a3.2 3.2 0 1 0 6.4 0a3.2 3.2 0 1 0 -6.4 0M370.2 265.7a3.2 3.2 0 1 0 6.4 0a3.2 3.2 0 1 0 -6.4 0M376.2 249.8a3.2 3.2 0 1 0 6.4 0a3.2 3.2 0 1 0 -6.4 0M383.8 249.8a3.2 3.2 0 1 0 6.4 0a3.2 3.2 0 1 0 -6.4 0M317.9 289.9a3.2 3.2 0 1 0 6.4 0a3.2 3.2 0 1 0 -6.4 0M330.0 290.3a3.2 3.2 0 1 0 6.4 0a3.2 3.2 0 1 0 -6.4 0M343.7 290.3a3.2 3.2 0 1 0 6.4 0a3.2 3.2 0 1 0 -6.4 0M347.5 289.5a3.2 3.2 0 1 0 6.4 0a3.2 3.2 0 1 0 -6.4 0M321.7 296.4a3.2 3.2 0 1 0 6.4 0a3.2 3.2 0 1 0 -6.4 0M325.5 294.1a3.2 3.2 0 1 0 6.4 0a3.2 3.2 0 1 0 -6.4 0M328.5 292.6a3.2 3.2 0 1 0 6.4 0a3.2 3.2 0 1 0 -6.4 0M313.3 298.6a3.2 3.2 0 1 0 6.4 0a3.2 3.2 0 1 0 -6.4 0M337.6 295.6a3.2 3.2 0 1 0 6.4 0a3.2 3.2 0 1 0 -6.4 0M342.2 294.8a3.2 3.2 0 1 0 6.4 0a3.2 3.2 0 1 0 -6.4 0M343.7 298.6a3.2 3.2 0 1 0 6.4 0a3.2 3.2 0 1 0 -6.4 0M342.2 302.4a3.2 3.2 0 1 0 6.4 0a3.2 3.2 0 1 0 -6.4 0M351.3 295.6a3.2 3.2 0 1 0 6.4 0a3.2 3.2 0 1 0 -6.4 0M355.8 296.4a3.2 3.2 0 1 0 6.4 0a3.2 3.2 0 1 0 -6.4 0M358.9 299.4a3.2 3.2 0 1 0 6.4 0a3.2 3.2 0 1 0 -6.4 0M357.4 305.5a3.2 3.2 0 1 0 6.4 0a3.2 3.2 0 1 0 -6.4 0M361.9 306.2a3.2 3.2 0 1 0 6.4 0a3.2 3.2 0 1 0 -6.4 0M360.4 290.3a3.2 3.2 0 1 0 6.4 0a3.2 3.2 0 1 0 -6.4 0M316.4 306.2a3.2 3.2 0 1 0 6.4 0a3.2 3.2 0 1 0 -6.4 0M321.7 305.5a3.2 3.2 0 1 0 6.4 0a3.2 3.2 0 1 0 -6.4 0M314.8 310.8a3.2 3.2 0 1 0 6.4 0a3.2 3.2 0 1 0 -6.4 0M319.4 310.8a3.2 3.2 0 1 0 6.4 0a3.2 3.2 0 1 0 -6.4 0M312.6 313.8a3.2 3.2 0 1 0 6.4 0a3.2 3.2 0 1 0 -6.4 0M323.2 310.0a3.2 3.2 0 1 0 6.4 0a3.2 3.2 0 1 0 -6.4 0M332.3 309.3a3.2 3.2 0 1 0 6.4 0a3.2 3.2 0 1 0 -6.4 0M333.8 306.2a3.2 3.2 0 1 0 6.4 0a3.2 3.2 0 1 0 -6.4 0M346.0 306.2a3.2 3.2 0 1 0 6.4 0a3.2 3.2 0 1 0 -6.4 0M343.7 310.8a3.2 3.2 0 1 0 6.4 0a3.2 3.2 0 1 0 -6.4 0M338.4 313.8a3.2 3.2 0 1 0 6.4 0a3.2 3.2 0 1 0 -6.4 0M323.2 318.4a3.2 3.2 0 1 0 6.4 0a3.2 3.2 0 1 0 -6.4 0M330.8 318.0a3.2 3.2 0 1 0 6.4 0a3.2 3.2 0 1 0 -6.4 0M340.7 318.4a3.2 3.2 0 1 0 6.4 0a3.2 3.2 0 1 0 -6.4 0M346.7 318.4a3.2 3.2 0 1 0 6.4 0a3.2 3.2 0 1 0 -6.4 0M354.3 318.4a3.2 3.2 0 1 0 6.4 0a3.2 3.2 0 1 0 -6.4 0M358.9 318.0a3.2 3.2 0 1 0 6.4 0a3.2 3.2 0 1 0 -6.4 0M362.7 313.8a3.2 3.2 0 1 0 6.4 0a3.2 3.2 0 1 0 -6.4 0M317.1 322.9a3.2 3.2 0 1 0 6.4 0a3.2 3.2 0 1 0 -6.4 0M369.4 291.0a3.2 3.2 0 1 0 6.4 0a3.2 3.2 0 1 0 -6.4 0M367.9 297.9a3.2 3.2 0 1 0 6.4 0a3.2 3.2 0 1 0 -6.4 0M373.2 295.6a3.2 3.2 0 1 0 6.4 0a3.2 3.2 0 1 0 -6.4 0M377.7 296.4a3.2 3.2 0 1 0 6.4 0a3.2 3.2 0 1 0 -6.4 0M366.4 300.9a3.2 3.2 0 1 0 6.4 0a3.2 3.2 0 1 0 -6.4 0M373.2 300.9a3.2 3.2 0 1 0 6.4 0a3.2 3.2 0 1 0 -6.4 0M364.8 306.6a3.2 3.2 0 1 0 6.4 0a3.2 3.2 0 1 0 -6.4 0M369.4 306.2a3.2 3.2 0 1 0 6.4 0a3.2 3.2 0 1 0 -6.4 0M373.9 305.8a3.2 3.2 0 1 0 6.4 0a3.2 3.2 0 1 0 -6.4 0M363.3 314.6a3.2 3.2 0 1 0 6.4 0a3.2 3.2 0 1 0 -6.4 0M366.4 322.9a3.2 3.2 0 1 0 6.4 0a3.2 3.2 0 1 0 -6.4 0M392.2 294.8a3.2 3.2 0 1 0 6.4 0a3.2 3.2 0 1 0 -6.4 0M392.2 299.4a3.2 3.2 0 1 0 6.4 0a3.2 3.2 0 1 0 -6.4 0M389.9 306.2a3.2 3.2 0 1 0 6.4 0a3.2 3.2 0 1 0 -6.4 0M395.2 306.2a3.2 3.2 0 1 0 6.4 0a3.2 3.2 0 1 0 -6.4 0M392.2 318.0a3.2 3.2 0 1 0 6.4 0a3.2 3.2 0 1 0 -6.4 0M383.4 322.9a3.2 3.2 0 1 0 6.4 0a3.2 3.2 0 1 0 -6.4 0M317.3 332.6a3.2 3.2 0 1 0 6.4 0a3.2 3.2 0 1 0 -6.4 0M324.5 338.3a3.2 3.2 0 1 0 6.4 0a3.2 3.2 0 1 0 -6.4 0M330.2 344.0a3.2 3.2 0 1 0 6.4 0a3.2 3.2 0 1 0 -6.4 0M336.3 344.4a3.2 3.2 0 1 0 6.4 0a3.2 3.2 0 1 0 -6.4 0M325.3 350.1a3.2 3.2 0 1 0 6.4 0a3.2 3.2 0 1 0 -6.4 0M338.2 350.1a3.2 3.2 0 1 0 6.4 0a3.2 3.2 0 1 0 -6.4 0M345.0 350.1a3.2 3.2 0 1 0 6.4 0a3.2 3.2 0 1 0 -6.4 0M337.8 357.3a3.2 3.2 0 1 0 6.4 0a3.2 3.2 0 1 0 -6.4 0M328.0 364.8a3.2 3.2 0 1 0 6.4 0a3.2 3.2 0 1 0 -6.4 0M333.1 364.2a3.2 3.2 0 1 0 6.4 0a3.2 3.2 0 1 0 -6.4 0M339.3 364.8a3.2 3.2 0 1 0 6.4 0a3.2 3.2 0 1 0 -6.4 0M339.3 332.6a3.2 3.2 0 1 0 6.4 0a3.2 3.2 0 1 0 -6.4 0M343.1 333.4a3.2 3.2 0 1 0 6.4 0a3.2 3.2 0 1 0 -6.4 0M340.8 337.9a3.2 3.2 0 1 0 6.4 0a3.2 3.2 0 1 0 -6.4 0M345.4 328.0a3.2 3.2 0 1 0 6.4 0a3.2 3.2 0 1 0 -6.4 0M346.9 332.6a3.2 3.2 0 1 0 6.4 0a3.2 3.2 0 1 0 -6.4 0M349.1 332.6a3.2 3.2 0 1 0 6.4 0a3.2 3.2 0 1 0 -6.4 0M352.9 332.6a3.2 3.2 0 1 0 6.4 0a3.2 3.2 0 1 0 -6.4 0M357.1 332.6a3.2 3.2 0 1 0 6.4 0a3.2 3.2 0 1 0 -6.4 0M365.0 327.3a3.2 3.2 0 1 0 6.4 0a3.2 3.2 0 1 0 -6.4 0M368.1 332.6a3.2 3.2 0 1 0 6.4 0a3.2 3.2 0 1 0 -6.4 0M387.0 332.6a3.2 3.2 0 1 0 6.4 0a3.2 3.2 0 1 0 -6.4 0M392.4 332.6a3.2 3.2 0 1 0 6.4 0a3.2 3.2 0 1 0 -6.4 0M357.8 339.4a3.2 3.2 0 1 0 6.4 0a3.2 3.2 0 1 0 -6.4 0M352.9 344.0a3.2 3.2 0 1 0 6.4 0a3.2 3.2 0 1 0 -6.4 0M358.2 344.0a3.2 3.2 0 1 0 6.4 0a3.2 3.2 0 1 0 -6.4 0M371.1 343.6a3.2 3.2 0 1 0 6.4 0a3.2 3.2 0 1 0 -6.4 0M352.1 350.1a3.2 3.2 0 1 0 6.4 0a3.2 3.2 0 1 0 -6.4 0M356.7 350.1a3.2 3.2 0 1 0 6.4 0a3.2 3.2 0 1 0 -6.4 0M361.2 350.1a3.2 3.2 0 1 0 6.4 0a3.2 3.2 0 1 0 -6.4 0M365.8 350.1a3.2 3.2 0 1 0 6.4 0a3.2 3.2 0 1 0 -6.4 0M369.6 350.1a3.2 3.2 0 1 0 6.4 0a3.2 3.2 0 1 0 -6.4 0M373.0 350.1a3.2 3.2 0 1 0 6.4 0a3.2 3.2 0 1 0 -6.4 0M385.5 350.1a3.2 3.2 0 1 0 6.4 0a3.2 3.2 0 1 0 -6.4 0M170.5 270.6a3.2 3.2 0 1 0 6.4 0a3.2 3.2 0 1 0 -6.4 0M158.5 281.0a3.2 3.2 0 1 0 6.4 0a3.2 3.2 0 1 0 -6.4 0M155.9 286.5a3.2 3.2 0 1 0 6.4 0a3.2 3.2 0 1 0 -6.4 0M177.9 281.4a3.2 3.2 0 1 0 6.4 0a3.2 3.2 0 1 0 -6.4 0M180.1 289.5a3.2 3.2 0 1 0 6.4 0a3.2 3.2 0 1 0 -6.4 0M169.3 302.7a3.2 3.2 0 1 0 6.4 0a3.2 3.2 0 1 0 -6.4 0M163.9 332.5a3.2 3.2 0 1 0 6.4 0a3.2 3.2 0 1 0 -6.4 0M167.9 332.5a3.2 3.2 0 1 0 6.4 0a3.2 3.2 0 1 0 -6.4 0M203.0 278.0a3.2 3.2 0 1 0 6.4 0a3.2 3.2 0 1 0 -6.4 0M210.6 278.0a3.2 3.2 0 1 0 6.4 0a3.2 3.2 0 1 0 -6.4 0M197.0 318.1a3.2 3.2 0 1 0 6.4 0a3.2 3.2 0 1 0 -6.4 0M209.0 318.1a3.2 3.2 0 1 0 6.4 0a3.2 3.2 0 1 0 -6.4 0M213.0 318.1a3.2 3.2 0 1 0 6.4 0a3.2 3.2 0 1 0 -6.4 0M218.0 318.1a3.2 3.2 0 1 0 6.4 0a3.2 3.2 0 1 0 -6.4 0M209.4 332.5a3.2 3.2 0 1 0 6.4 0a3.2 3.2 0 1 0 -6.4 0M219.4 332.5a3.2 3.2 0 1 0 6.4 0a3.2 3.2 0 1 0 -6.4 0M217.0 344.2a3.2 3.2 0 1 0 6.4 0a3.2 3.2 0 1 0 -6.4 0M206.0 350.2a3.2 3.2 0 1 0 6.4 0a3.2 3.2 0 1 0 -6.4 0M222.0 350.2a3.2 3.2 0 1 0 6.4 0a3.2 3.2 0 1 0 -6.4 0M216.0 355.2a3.2 3.2 0 1 0 6.4 0a3.2 3.2 0 1 0 -6.4 0M236.2 270.5a3.2 3.2 0 1 0 6.4 0a3.2 3.2 0 1 0 -6.4 0M257.1 273.6a3.2 3.2 0 1 0 6.4 0a3.2 3.2 0 1 0 -6.4 0M250.6 277.0a3.2 3.2 0 1 0 6.4 0a3.2 3.2 0 1 0 -6.4 0M253.7 278.5a3.2 3.2 0 1 0 6.4 0a3.2 3.2 0 1 0 -6.4 0M245.3 283.1a3.2 3.2 0 1 0 6.4 0a3.2 3.2 0 1 0 -6.4 0M254.4 283.1a3.2 3.2 0 1 0 6.4 0a3.2 3.2 0 1 0 -6.4 0M243.0 286.1a3.2 3.2 0 1 0 6.4 0a3.2 3.2 0 1 0 -6.4 0M251.4 286.1a3.2 3.2 0 1 0 6.4 0a3.2 3.2 0 1 0 -6.4 0M246.8 289.9a3.2 3.2 0 1 0 6.4 0a3.2 3.2 0 1 0 -6.4 0M256.7 289.5a3.2 3.2 0 1 0 6.4 0a3.2 3.2 0 1 0 -6.4 0M230.9 286.1a3.2 3.2 0 1 0 6.4 0a3.2 3.2 0 1 0 -6.4 0M236.2 289.9a3.2 3.2 0 1 0 6.4 0a3.2 3.2 0 1 0 -6.4 0M232.4 295.2a3.2 3.2 0 1 0 6.4 0a3.2 3.2 0 1 0 -6.4 0M241.5 295.2a3.2 3.2 0 1 0 6.4 0a3.2 3.2 0 1 0 -6.4 0M244.5 295.2a3.2 3.2 0 1 0 6.4 0a3.2 3.2 0 1 0 -6.4 0M243.1 300.1a3.2 3.2 0 1 0 6.4 0a3.2 3.2 0 1 0 -6.4 0M244.5 306.1a3.2 3.2 0 1 0 6.4 0a3.2 3.2 0 1 0 -6.4 0M234.3 318.1a3.2 3.2 0 1 0 6.4 0a3.2 3.2 0 1 0 -6.4 0M247.6 317.8a3.2 3.2 0 1 0 6.4 0a3.2 3.2 0 1 0 -6.4 0M253.4 317.8a3.2 3.2 0 1 0 6.4 0a3.2 3.2 0 1 0 -6.4 0M240.8 323.9a3.2 3.2 0 1 0 6.4 0a3.2 3.2 0 1 0 -6.4 0M249.1 321.6a3.2 3.2 0 1 0 6.4 0a3.2 3.2 0 1 0 -6.4 0M250.6 323.9a3.2 3.2 0 1 0 6.4 0a3.2 3.2 0 1 0 -6.4 0M253.7 327.6a3.2 3.2 0 1 0 6.4 0a3.2 3.2 0 1 0 -6.4 0M234.7 331.4a3.2 3.2 0 1 0 6.4 0a3.2 3.2 0 1 0 -6.4 0M246.8 331.4a3.2 3.2 0 1 0 6.4 0a3.2 3.2 0 1 0 -6.4 0M250.6 332.2a3.2 3.2 0 1 0 6.4 0a3.2 3.2 0 1 0 -6.4 0M239.2 333.7a3.2 3.2 0 1 0 6.4 0a3.2 3.2 0 1 0 -6.4 0M239.8 336.0a3.2 3.2 0 1 0 6.4 0a3.2 3.2 0 1 0 -6.4 0M245.3 338.1a3.2 3.2 0 1 0 6.4 0a3.2 3.2 0 1 0 -6.4 0M245.7 343.4a3.2 3.2 0 1 0 6.4 0a3.2 3.2 0 1 0 -6.4 0M236.9 349.8a3.2 3.2 0 1 0 6.4 0a3.2 3.2 0 1 0 -6.4 0M241.5 350.2a3.2 3.2 0 1 0 6.4 0a3.2 3.2 0 1 0 -6.4 0M258.2 357.4a3.2 3.2 0 1 0 6.4 0a3.2 3.2 0 1 0 -6.4 0M287.1 284.3a3.2 3.2 0 1 0 6.4 0a3.2 3.2 0 1 0 -6.4 0M289.5 286.3a3.2 3.2 0 1 0 6.4 0a3.2 3.2 0 1 0 -6.4 0M294.5 279.8a3.2 3.2 0 1 0 6.4 0a3.2 3.2 0 1 0 -6.4 0M297.5 277.9a3.2 3.2 0 1 0 6.4 0a3.2 3.2 0 1 0 -6.4 0M287.1 318.4a3.2 3.2 0 1 0 6.4 0a3.2 3.2 0 1 0 -6.4 0M302.3 314.1a3.2 3.2 0 1 0 6.4 0a3.2 3.2 0 1 0 -6.4 0M297.0 322.9a3.2 3.2 0 1 0 6.4 0a3.2 3.2 0 1 0 -6.4 0M165.9 372.4a3.2 3.2 0 1 0 6.4 0a3.2 3.2 0 1 0 -6.4 0M181.9 372.4a3.2 3.2 0 1 0 6.4 0a3.2 3.2 0 1 0 -6.4 0M199.0 372.4a3.2 3.2 0 1 0 6.4 0a3.2 3.2 0 1 0 -6.4 0M203.0 372.4a3.2 3.2 0 1 0 6.4 0a3.2 3.2 0 1 0 -6.4 0M207.0 372.4a3.2 3.2 0 1 0 6.4 0a3.2 3.2 0 1 0 -6.4 0M211.0 372.4a3.2 3.2 0 1 0 6.4 0a3.2 3.2 0 1 0 -6.4 0M216.4 372.4a3.2 3.2 0 1 0 6.4 0a3.2 3.2 0 1 0 -6.4 0M225.0 372.4a3.2 3.2 0 1 0 6.4 0a3.2 3.2 0 1 0 -6.4 0M236.0 372.4a3.2 3.2 0 1 0 6.4 0a3.2 3.2 0 1 0 -6.4 0M239.6 372.4a3.2 3.2 0 1 0 6.4 0a3.2 3.2 0 1 0 -6.4 0M243.3 372.4a3.2 3.2 0 1 0 6.4 0a3.2 3.2 0 1 0 -6.4 0M246.9 372.4a3.2 3.2 0 1 0 6.4 0a3.2 3.2 0 1 0 -6.4 0M250.5 372.4a3.2 3.2 0 1 0 6.4 0a3.2 3.2 0 1 0 -6.4 0M152.9 365.0a3.2 3.2 0 1 0 6.4 0a3.2 3.2 0 1 0 -6.4 0M162.5 404.1a3.2 3.2 0 1 0 6.4 0a3.2 3.2 0 1 0 -6.4 0M196.4 404.1a3.2 3.2 0 1 0 6.4 0a3.2 3.2 0 1 0 -6.4 0M207.4 404.1a3.2 3.2 0 1 0 6.4 0a3.2 3.2 0 1 0 -6.4 0M214.4 404.1a3.2 3.2 0 1 0 6.4 0a3.2 3.2 0 1 0 -6.4 0M218.0 404.1a3.2 3.2 0 1 0 6.4 0a3.2 3.2 0 1 0 -6.4 0M225.0 404.1a3.2 3.2 0 1 0 6.4 0a3.2 3.2 0 1 0 -6.4 0M228.4 404.1a3.2 3.2 0 1 0 6.4 0a3.2 3.2 0 1 0 -6.4 0M231.8 404.1a3.2 3.2 0 1 0 6.4 0a3.2 3.2 0 1 0 -6.4 0M235.2 404.1a3.2 3.2 0 1 0 6.4 0a3.2 3.2 0 1 0 -6.4 0M238.6 404.1a3.2 3.2 0 1 0 6.4 0a3.2 3.2 0 1 0 -6.4 0M242.1 404.1a3.2 3.2 0 1 0 6.4 0a3.2 3.2 0 1 0 -6.4 0M245.5 404.1a3.2 3.2 0 1 0 6.4 0a3.2 3.2 0 1 0 -6.4 0M248.9 404.1a3.2 3.2 0 1 0 6.4 0a3.2 3.2 0 1 0 -6.4 0M252.3 404.1a3.2 3.2 0 1 0 6.4 0a3.2 3.2 0 1 0 -6.4 0M196.4 441.2a3.2 3.2 0 1 0 6.4 0a3.2 3.2 0 1 0 -6.4 0M204.6 441.2a3.2 3.2 0 1 0 6.4 0a3.2 3.2 0 1 0 -6.4 0M160.9 458.2a3.2 3.2 0 1 0 6.4 0a3.2 3.2 0 1 0 -6.4 0M165.9 458.2a3.2 3.2 0 1 0 6.4 0a3.2 3.2 0 1 0 -6.4 0M168.9 458.2a3.2 3.2 0 1 0 6.4 0a3.2 3.2 0 1 0 -6.4 0M181.9 458.2a3.2 3.2 0 1 0 6.4 0a3.2 3.2 0 1 0 -6.4 0M185.3 458.2a3.2 3.2 0 1 0 6.4 0a3.2 3.2 0 1 0 -6.4 0M188.7 458.2a3.2 3.2 0 1 0 6.4 0a3.2 3.2 0 1 0 -6.4 0M192.2 458.2a3.2 3.2 0 1 0 6.4 0a3.2 3.2 0 1 0 -6.4 0M195.6 458.2a3.2 3.2 0 1 0 6.4 0a3.2 3.2 0 1 0 -6.4 0M199.0 458.2a3.2 3.2 0 1 0 6.4 0a3.2 3.2 0 1 0 -6.4 0M202.4 458.2a3.2 3.2 0 1 0 6.4 0a3.2 3.2 0 1 0 -6.4 0M205.8 458.2a3.2 3.2 0 1 0 6.4 0a3.2 3.2 0 1 0 -6.4 0M209.2 458.2a3.2 3.2 0 1 0 6.4 0a3.2 3.2 0 1 0 -6.4 0M212.6 458.2a3.2 3.2 0 1 0 6.4 0a3.2 3.2 0 1 0 -6.4 0M216.0 458.2a3.2 3.2 0 1 0 6.4 0a3.2 3.2 0 1 0 -6.4 0M219.4 458.2a3.2 3.2 0 1 0 6.4 0a3.2 3.2 0 1 0 -6.4 0M222.8 458.2a3.2 3.2 0 1 0 6.4 0a3.2 3.2 0 1 0 -6.4 0M226.2 458.2a3.2 3.2 0 1 0 6.4 0a3.2 3.2 0 1 0 -6.4 0M229.6 458.2a3.2 3.2 0 1 0 6.4 0a3.2 3.2 0 1 0 -6.4 0M233.0 458.2a3.2 3.2 0 1 0 6.4 0a3.2 3.2 0 1 0 -6.4 0M236.4 458.2a3.2 3.2 0 1 0 6.4 0a3.2 3.2 0 1 0 -6.4 0M239.8 458.2a3.2 3.2 0 1 0 6.4 0a3.2 3.2 0 1 0 -6.4 0M243.3 458.2a3.2 3.2 0 1 0 6.4 0a3.2 3.2 0 1 0 -6.4 0M246.7 458.2a3.2 3.2 0 1 0 6.4 0a3.2 3.2 0 1 0 -6.4 0M250.1 458.2a3.2 3.2 0 1 0 6.4 0a3.2 3.2 0 1 0 -6.4 0M253.5 458.2a3.2 3.2 0 1 0 6.4 0a3.2 3.2 0 1 0 -6.4 0M318.5 372.4a3.2 3.2 0 1 0 6.4 0a3.2 3.2 0 1 0 -6.4 0M339.0 372.4a3.2 3.2 0 1 0 6.4 0a3.2 3.2 0 1 0 -6.4 0M342.0 372.4a3.2 3.2 0 1 0 6.4 0a3.2 3.2 0 1 0 -6.4 0M345.0 372.4a3.2 3.2 0 1 0 6.4 0a3.2 3.2 0 1 0 -6.4 0M349.0 372.4a3.2 3.2 0 1 0 6.4 0a3.2 3.2 0 1 0 -6.4 0M359.4 372.4a3.2 3.2 0 1 0 6.4 0a3.2 3.2 0 1 0 -6.4 0M368.0 372.4a3.2 3.2 0 1 0 6.4 0a3.2 3.2 0 1 0 -6.4 0M380.7 372.4a3.2 3.2 0 1 0 6.4 0a3.2 3.2 0 1 0 -6.4 0M333.4 386.5a3.2 3.2 0 1 0 6.4 0a3.2 3.2 0 1 0 -6.4 0M322.0 393.1a3.2 3.2 0 1 0 6.4 0a3.2 3.2 0 1 0 -6.4 0M327.4 394.1a3.2 3.2 0 1 0 6.4 0a3.2 3.2 0 1 0 -6.4 0M270.8 404.1a3.2 3.2 0 1 0 6.4 0a3.2 3.2 0 1 0 -6.4 0M288.3 404.1a3.2 3.2 0 1 0 6.4 0a3.2 3.2 0 1 0 -6.4 0M299.3 404.1a3.2 3.2 0 1 0 6.4 0a3.2 3.2 0 1 0 -6.4 0M316.9 404.1a3.2 3.2 0 1 0 6.4 0a3.2 3.2 0 1 0 -6.4 0M320.3 404.1a3.2 3.2 0 1 0 6.4 0a3.2 3.2 0 1 0 -6.4 0M323.8 404.1a3.2 3.2 0 1 0 6.4 0a3.2 3.2 0 1 0 -6.4 0M327.2 404.1a3.2 3.2 0 1 0 6.4 0a3.2 3.2 0 1 0 -6.4 0M330.6 404.1a3.2 3.2 0 1 0 6.4 0a3.2 3.2 0 1 0 -6.4 0M334.0 404.1a3.2 3.2 0 1 0 6.4 0a3.2 3.2 0 1 0 -6.4 0M337.4 404.1a3.2 3.2 0 1 0 6.4 0a3.2 3.2 0 1 0 -6.4 0M340.8 404.1a3.2 3.2 0 1 0 6.4 0a3.2 3.2 0 1 0 -6.4 0M344.2 404.1a3.2 3.2 0 1 0 6.4 0a3.2 3.2 0 1 0 -6.4 0M347.6 404.1a3.2 3.2 0 1 0 6.4 0a3.2 3.2 0 1 0 -6.4 0M362.0 404.1a3.2 3.2 0 1 0 6.4 0a3.2 3.2 0 1 0 -6.4 0M365.4 404.1a3.2 3.2 0 1 0 6.4 0a3.2 3.2 0 1 0 -6.4 0M368.8 404.1a3.2 3.2 0 1 0 6.4 0a3.2 3.2 0 1 0 -6.4 0M372.3 404.1a3.2 3.2 0 1 0 6.4 0a3.2 3.2 0 1 0 -6.4 0M375.7 404.1a3.2 3.2 0 1 0 6.4 0a3.2 3.2 0 1 0 -6.4 0M379.1 404.1a3.2 3.2 0 1 0 6.4 0a3.2 3.2 0 1 0 -6.4 0M382.5 404.1a3.2 3.2 0 1 0 6.4 0a3.2 3.2 0 1 0 -6.4 0M323.0 422.5a3.2 3.2 0 1 0 6.4 0a3.2 3.2 0 1 0 -6.4 0M322.0 441.2a3.2 3.2 0 1 0 6.4 0a3.2 3.2 0 1 0 -6.4 0M356.0 441.2a3.2 3.2 0 1 0 6.4 0a3.2 3.2 0 1 0 -6.4 0M363.0 441.2a3.2 3.2 0 1 0 6.4 0a3.2 3.2 0 1 0 -6.4 0M367.0 441.2a3.2 3.2 0 1 0 6.4 0a3.2 3.2 0 1 0 -6.4 0M380.7 441.2a3.2 3.2 0 1 0 6.4 0a3.2 3.2 0 1 0 -6.4 0M250.0 458.2a3.2 3.2 0 1 0 6.4 0a3.2 3.2 0 1 0 -6.4 0M252.4 458.2a3.2 3.2 0 1 0 6.4 0a3.2 3.2 0 1 0 -6.4 0M254.8 458.2a3.2 3.2 0 1 0 6.4 0a3.2 3.2 0 1 0 -6.4 0M257.2 458.2a3.2 3.2 0 1 0 6.4 0a3.2 3.2 0 1 0 -6.4 0M269.0 458.2a3.2 3.2 0 1 0 6.4 0a3.2 3.2 0 1 0 -6.4 0M272.3 458.2a3.2 3.2 0 1 0 6.4 0a3.2 3.2 0 1 0 -6.4 0M275.5 458.2a3.2 3.2 0 1 0 6.4 0a3.2 3.2 0 1 0 -6.4 0M278.7 458.2a3.2 3.2 0 1 0 6.4 0a3.2 3.2 0 1 0 -6.4 0M281.9 458.2a3.2 3.2 0 1 0 6.4 0a3.2 3.2 0 1 0 -6.4 0M285.1 458.2a3.2 3.2 0 1 0 6.4 0a3.2 3.2 0 1 0 -6.4 0M288.3 458.2a3.2 3.2 0 1 0 6.4 0a3.2 3.2 0 1 0 -6.4 0M291.5 458.2a3.2 3.2 0 1 0 6.4 0a3.2 3.2 0 1 0 -6.4 0M294.7 458.2a3.2 3.2 0 1 0 6.4 0a3.2 3.2 0 1 0 -6.4 0M297.9 458.2a3.2 3.2 0 1 0 6.4 0a3.2 3.2 0 1 0 -6.4 0M314.1 458.2a3.2 3.2 0 1 0 6.4 0a3.2 3.2 0 1 0 -6.4 0M317.5 458.2a3.2 3.2 0 1 0 6.4 0a3.2 3.2 0 1 0 -6.4 0M320.9 458.2a3.2 3.2 0 1 0 6.4 0a3.2 3.2 0 1 0 -6.4 0M324.4 458.2a3.2 3.2 0 1 0 6.4 0a3.2 3.2 0 1 0 -6.4 0M327.8 458.2a3.2 3.2 0 1 0 6.4 0a3.2 3.2 0 1 0 -6.4 0M331.2 458.2a3.2 3.2 0 1 0 6.4 0a3.2 3.2 0 1 0 -6.4 0M334.6 458.2a3.2 3.2 0 1 0 6.4 0a3.2 3.2 0 1 0 -6.4 0M338.0 458.2a3.2 3.2 0 1 0 6.4 0a3.2 3.2 0 1 0 -6.4 0M341.4 458.2a3.2 3.2 0 1 0 6.4 0a3.2 3.2 0 1 0 -6.4 0M344.8 458.2a3.2 3.2 0 1 0 6.4 0a3.2 3.2 0 1 0 -6.4 0M348.2 458.2a3.2 3.2 0 1 0 6.4 0a3.2 3.2 0 1 0 -6.4 0M351.6 458.2a3.2 3.2 0 1 0 6.4 0a3.2 3.2 0 1 0 -6.4 0M355.0 458.2a3.2 3.2 0 1 0 6.4 0a3.2 3.2 0 1 0 -6.4 0M358.4 458.2a3.2 3.2 0 1 0 6.4 0a3.2 3.2 0 1 0 -6.4 0M361.8 458.2a3.2 3.2 0 1 0 6.4 0a3.2 3.2 0 1 0 -6.4 0M365.2 458.2a3.2 3.2 0 1 0 6.4 0a3.2 3.2 0 1 0 -6.4 0M368.6 458.2a3.2 3.2 0 1 0 6.4 0a3.2 3.2 0 1 0 -6.4 0M372.1 458.2a3.2 3.2 0 1 0 6.4 0a3.2 3.2 0 1 0 -6.4 0M375.5 458.2a3.2 3.2 0 1 0 6.4 0a3.2 3.2 0 1 0 -6.4 0M378.9 458.2a3.2 3.2 0 1 0 6.4 0a3.2 3.2 0 1 0 -6.4 0M382.3 458.2a3.2 3.2 0 1 0 6.4 0a3.2 3.2 0 1 0 -6.4 0M434.9 263.6a3.2 3.2 0 1 0 6.4 0a3.2 3.2 0 1 0 -6.4 0M452.6 261.5a3.2 3.2 0 1 0 6.4 0a3.2 3.2 0 1 0 -6.4 0M422.5 281.4a3.2 3.2 0 1 0 6.4 0a3.2 3.2 0 1 0 -6.4 0M445.9 281.4a3.2 3.2 0 1 0 6.4 0a3.2 3.2 0 1 0 -6.4 0M452.6 287.1a3.2 3.2 0 1 0 6.4 0a3.2 3.2 0 1 0 -6.4 0M444.9 292.7a3.2 3.2 0 1 0 6.4 0a3.2 3.2 0 1 0 -6.4 0M468.0 278.0a3.2 3.2 0 1 0 6.4 0a3.2 3.2 0 1 0 -6.4 0M452.6 322.7a3.2 3.2 0 1 0 6.4 0a3.2 3.2 0 1 0 -6.4 0M452.6 345.6a3.2 3.2 0 1 0 6.4 0a3.2 3.2 0 1 0 -6.4 0M456.6 350.2a3.2 3.2 0 1 0 6.4 0a3.2 3.2 0 1 0 -6.4 0M461.0 350.2a3.2 3.2 0 1 0 6.4 0a3.2 3.2 0 1 0 -6.4 0M386.8 372.4a3.2 3.2 0 1 0 6.4 0a3.2 3.2 0 1 0 -6.4 0M445.9 367.6a3.2 3.2 0 1 0 6.4 0a3.2 3.2 0 1 0 -6.4 0M452.6 372.4a3.2 3.2 0 1 0 6.4 0a3.2 3.2 0 1 0 -6.4 0M447.5 383.6a3.2 3.2 0 1 0 6.4 0a3.2 3.2 0 1 0 -6.4 0M456.0 382.6a3.2 3.2 0 1 0 6.4 0a3.2 3.2 0 1 0 -6.4 0M504.1 394.1a3.2 3.2 0 1 0 6.4 0a3.2 3.2 0 1 0 -6.4 0M387.8 404.1a3.2 3.2 0 1 0 6.4 0a3.2 3.2 0 1 0 -6.4 0M391.8 404.1a3.2 3.2 0 1 0 6.4 0a3.2 3.2 0 1 0 -6.4 0M452.0 404.1a3.2 3.2 0 1 0 6.4 0a3.2 3.2 0 1 0 -6.4 0M457.0 404.1a3.2 3.2 0 1 0 6.4 0a3.2 3.2 0 1 0 -6.4 0M462.0 404.1a3.2 3.2 0 1 0 6.4 0a3.2 3.2 0 1 0 -6.4 0M393.2 441.2a3.2 3.2 0 1 0 6.4 0a3.2 3.2 0 1 0 -6.4 0M387.8 458.2a3.2 3.2 0 1 0 6.4 0a3.2 3.2 0 1 0 -6.4 0M391.8 458.2a3.2 3.2 0 1 0 6.4 0a3.2 3.2 0 1 0 -6.4 0M395.8 458.2a3.2 3.2 0 1 0 6.4 0a3.2 3.2 0 1 0 -6.4 0M415.9 458.2a3.2 3.2 0 1 0 6.4 0a3.2 3.2 0 1 0 -6.4 0M417.9 458.2a3.2 3.2 0 1 0 6.4 0a3.2 3.2 0 1 0 -6.4 0M429.3 458.2a3.2 3.2 0 1 0 6.4 0a3.2 3.2 0 1 0 -6.4 0M436.9 458.2a3.2 3.2 0 1 0 6.4 0a3.2 3.2 0 1 0 -6.4 0M438.9 458.2a3.2 3.2 0 1 0 6.4 0a3.2 3.2 0 1 0 -6.4 0M445.9 458.2a3.2 3.2 0 1 0 6.4 0a3.2 3.2 0 1 0 -6.4 0M452.0 458.2a3.2 3.2 0 1 0 6.4 0a3.2 3.2 0 1 0 -6.4 0M456.0 458.2a3.2 3.2 0 1 0 6.4 0a3.2 3.2 0 1 0 -6.4 0M469.4 458.2a3.2 3.2 0 1 0 6.4 0a3.2 3.2 0 1 0 -6.4 0M486.0 458.2a3.2 3.2 0 1 0 6.4 0a3.2 3.2 0 1 0 -6.4 0M492.0 458.2a3.2 3.2 0 1 0 6.4 0a3.2 3.2 0 1 0 -6.4 0M498.0 458.2a3.2 3.2 0 1 0 6.4 0a3.2 3.2 0 1 0 -6.4 0M506.1 458.2a3.2 3.2 0 1 0 6.4 0a3.2 3.2 0 1 0 -6.4 0M409.9 327.4a3.2 3.2 0 1 0 6.4 0a3.2 3.2 0 1 0 -6.4 0M345.9 216.6a3.2 3.2 0 1 0 6.4 0a3.2 3.2 0 1 0 -6.4 0M399.1 458.2a3.2 3.2 0 1 0 6.4 0a3.2 3.2 0 1 0 -6.4 0" fill="#000"/>
<rect x="65.70" y="7.00" width="607.70" height="451.30" fill="none" stroke="#555" stroke-width="1.4"/>
<path d="M65.70 96.50H71.90M673.40 96.50H667.20M65.70 142.10H71.90M673.40 142.10H667.20M65.70 189.30H71.90M673.40 189.30H667.20M65.70 278.00H71.90M673.40 278.00H667.20M65.70 368.00H71.90M673.40 368.00H667.20M187.20 458.30V452.10M187.20 7.00V13.20M308.60 458.30V452.10M308.60 7.00V13.20M430.00 458.30V452.10M430.00 7.00V13.20M551.20 458.30V452.10M551.20 7.00V13.20" stroke="#555" stroke-width="1.4" fill="none"/>
<line x1="139" y1="396" x2="531.2" y2="217.7" stroke="#000" stroke-width="3.4" stroke-linecap="butt"/>
<polygon points="499.1,229.5 502.4,220.9 506.2,211.2 511.6,196.6 514.5,186.4 517.9,195.4 527.2,193.0 521.3,198.5 516.5,206.3 513.5,211.2 508.7,220.9 503.0,227.5" fill="#000"/>
<line x1="518.6" y1="196" x2="573.4" y2="89.8" stroke="#000" stroke-width="2.7"/>
<g font-family="Liberation Sans, sans-serif" fill="#000" stroke="#000" stroke-width="1.4">
<text font-size="100" transform="matrix(0.23985 0 0 0.24648 29.80 21.25)">2.0</text>
<text font-size="100" transform="matrix(0.22902 0 0 0.25211 31.08 104.95)">1.6</text>
<text font-size="100" transform="matrix(0.22767 0 0 0.25571 31.79 198.10)">1.2</text>
<text font-size="100" transform="matrix(0.23664 0 0 0.24648 30.05 285.25)">0.8</text>
<text font-size="100" transform="matrix(0.23485 0 0 0.24648 30.06 378.25)">0.4</text>
<text font-size="100" transform="matrix(0.25000 0 0 0.24648 48.40 459.55)">0</text>
<text font-size="100" transform="matrix(0.25625 0 0 0.24507 61.48 482.35)">0</text>
<text font-size="100" transform="matrix(0.23333 0 0 0.23662 171.67 482.06)">0.4</text>
<text font-size="100" transform="matrix(0.23664 0 0 0.23662 293.05 482.06)">0.8</text>
<text font-size="100" transform="matrix(0.23478 0 0 0.23857 414.64 482.00)">1.2</text>
<text font-size="100" transform="matrix(0.22588 0 0 0.23944 536.21 481.26)">1.6</text>
<text font-size="100" transform="matrix(0.22912 0 0 0.23944 652.85 481.26)">2.0</text>
<text font-size="100" transform="matrix(0.24483 0 0 0.25034 330.31 510.05)">b - value</text>
<text font-size="100" transform="matrix(0.26050 0 0 0.25652 418.92 79.70)">D</text>
<text font-size="100" transform="matrix(0.20220 0 0 0.21286 435.89 92.80)">2</text>
<text font-size="100" transform="matrix(0.27629 0 0 0.20615 448.22 79.60)">=</text>
<text font-size="100" transform="matrix(0.23678 0 0 0.25070 469.55 79.75)">0.133</text>
<text font-size="100" transform="matrix(0.27778 0 0 0.25986 534.79 79.74)">b</text>
<text font-size="100" transform="matrix(0.28660 0 0 0.28163 560.87 82.33)">+</text>
<text font-size="100" transform="matrix(0.24232 0 0 0.25634 587.93 79.54)">0.652</text>
<text font-size="100" transform="matrix(0 -0.24832 0.25070 0 21.55 450.64)">Correlation fractal diemnsion (D2)</text>
</g>
</svg>
</body></html>
